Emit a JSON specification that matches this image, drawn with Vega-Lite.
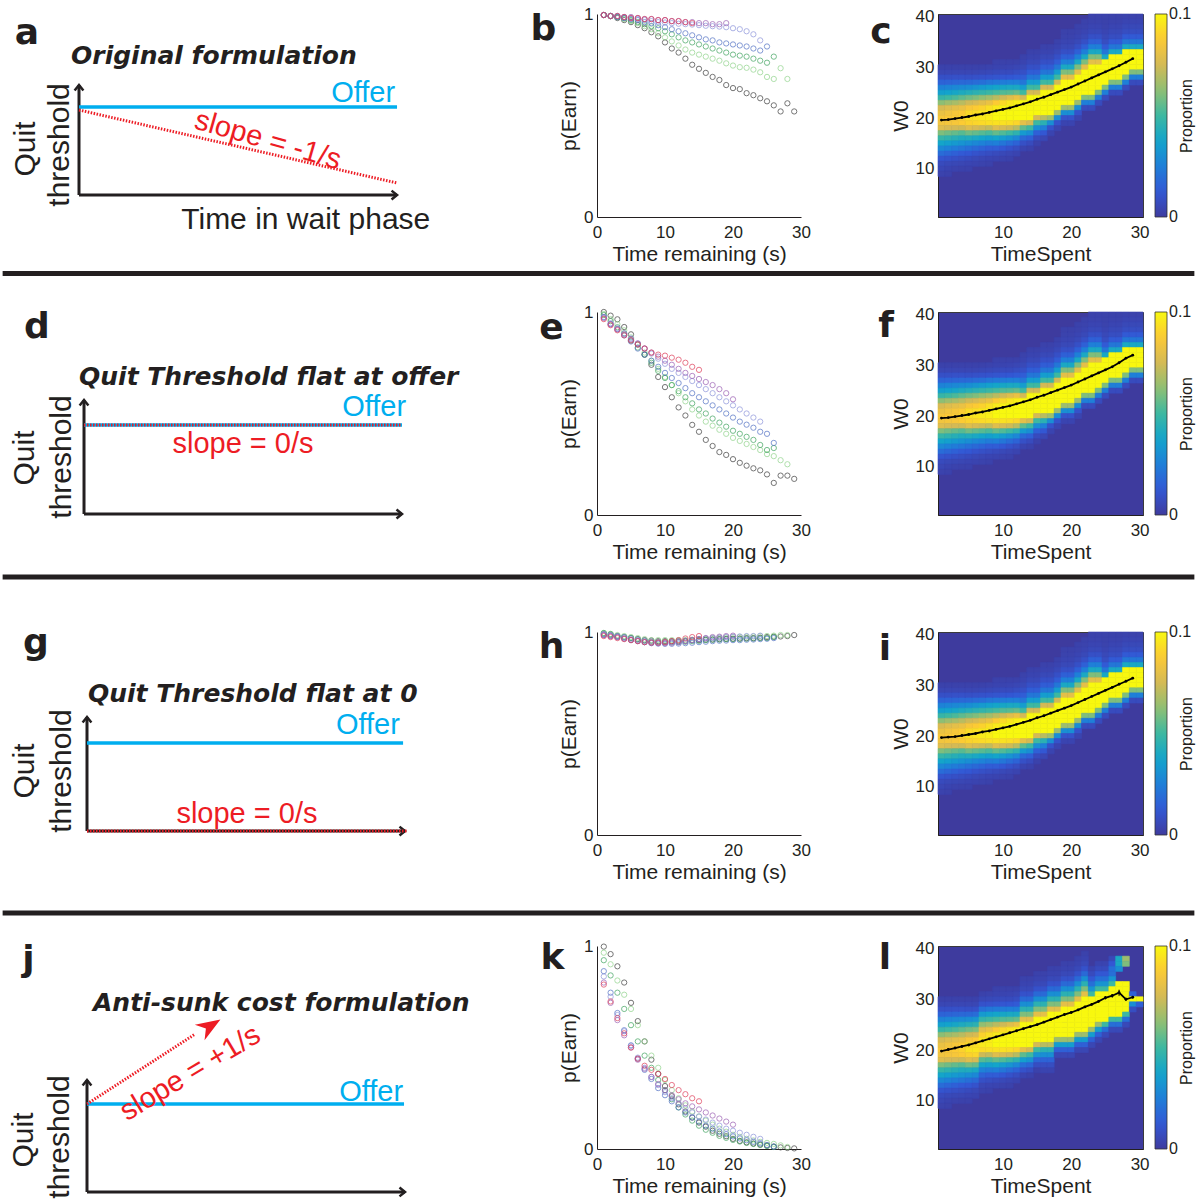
{
"$schema": "https://vega.github.io/schema/vega-lite/v6.json",
"background": "white",
"padding": {"left": 0, "top": 5, "right": 0, "bottom": 0},
"spacing": 0,
"config": {
  "font": "Liberation Sans",
  "view": {"stroke": null},
  "axis": {"grid": false, "ticks": false, "labelFlush": false, "domainColor": "#231f20", "domainWidth": 1, "labelColor": "#231f20", "titleColor": "#231f20", "labelFontSize": 17, "titleFontSize": 21, "titleFontWeight": "normal", "labelFont": "Liberation Sans", "titleFont": "Liberation Sans"},
  "axisX": {"labelPadding": 7, "titlePadding": 3},
  "axisY": {"labelPadding": 4, "titlePadding": 4},
  "legend": {"orient": "right", "offset": 12, "padding": 0, "gradientLength": 203, "gradientThickness": 12, "gradientStrokeColor": "#333333", "gradientStrokeWidth": 0.8, "labelFontSize": 16, "labelFont": "Liberation Sans", "labelColor": "#231f20", "labelOffset": 4, "titleFontSize": 16, "titleFont": "Liberation Sans", "titleFontWeight": "normal", "titleColor": "#231f20", "titleOrient": "right", "titlePadding": 4, "titleAnchor": "middle"}
},
"datasets": {
  "one": [{}],
  "b": [
    {"s":"k","t":1,"p":0.995},{"s":"k","t":2,"p":0.99},{"s":"k","t":3,"p":0.98},{"s":"k","t":4,"p":0.97},{"s":"k","t":5,"p":0.96},{"s":"k","t":6,"p":0.945},{"s":"k","t":7,"p":0.93},{"s":"k","t":8,"p":0.91},{"s":"k","t":9,"p":0.89},{"s":"k","t":10,"p":0.86},{"s":"k","t":11,"p":0.83},{"s":"k","t":12,"p":0.81},{"s":"k","t":13,"p":0.78},{"s":"k","t":14,"p":0.75},{"s":"k","t":15,"p":0.73},{"s":"k","t":16,"p":0.71},{"s":"k","t":17,"p":0.69},{"s":"k","t":18,"p":0.675},{"s":"k","t":19,"p":0.65},{"s":"k","t":20,"p":0.635},{"s":"k","t":21,"p":0.63},{"s":"k","t":22,"p":0.61},{"s":"k","t":23,"p":0.6},{"s":"k","t":24,"p":0.585},{"s":"k","t":25,"p":0.57},{"s":"k","t":26,"p":0.55},{"s":"k","t":27,"p":0.52},{"s":"k","t":28,"p":0.56},{"s":"k","t":29,"p":0.52},
    {"s":"lg","t":1,"p":0.995},{"s":"lg","t":2,"p":0.99},{"s":"lg","t":3,"p":0.985},{"s":"lg","t":4,"p":0.975},{"s":"lg","t":5,"p":0.965},{"s":"lg","t":6,"p":0.955},{"s":"lg","t":7,"p":0.94},{"s":"lg","t":8,"p":0.925},{"s":"lg","t":9,"p":0.905},{"s":"lg","t":10,"p":0.885},{"s":"lg","t":11,"p":0.865},{"s":"lg","t":12,"p":0.845},{"s":"lg","t":13,"p":0.825},{"s":"lg","t":14,"p":0.81},{"s":"lg","t":15,"p":0.8},{"s":"lg","t":16,"p":0.79},{"s":"lg","t":17,"p":0.78},{"s":"lg","t":18,"p":0.77},{"s":"lg","t":19,"p":0.757},{"s":"lg","t":20,"p":0.746},{"s":"lg","t":21,"p":0.738},{"s":"lg","t":22,"p":0.735},{"s":"lg","t":23,"p":0.726},{"s":"lg","t":24,"p":0.713},{"s":"lg","t":25,"p":0.69},{"s":"lg","t":26,"p":0.68},{"s":"lg","t":27,"p":0.733},{"s":"lg","t":28,"p":0.68},
    {"s":"g","t":1,"p":0.995},{"s":"g","t":2,"p":0.99},{"s":"g","t":3,"p":0.985},{"s":"g","t":4,"p":0.98},{"s":"g","t":5,"p":0.97},{"s":"g","t":6,"p":0.96},{"s":"g","t":7,"p":0.95},{"s":"g","t":8,"p":0.94},{"s":"g","t":9,"p":0.93},{"s":"g","t":10,"p":0.915},{"s":"g","t":11,"p":0.9},{"s":"g","t":12,"p":0.885},{"s":"g","t":13,"p":0.87},{"s":"g","t":14,"p":0.86},{"s":"g","t":15,"p":0.85},{"s":"g","t":16,"p":0.84},{"s":"g","t":17,"p":0.83},{"s":"g","t":18,"p":0.82},{"s":"g","t":19,"p":0.81},{"s":"g","t":20,"p":0.8},{"s":"g","t":21,"p":0.795},{"s":"g","t":22,"p":0.79},{"s":"g","t":23,"p":0.78},{"s":"g","t":24,"p":0.77},{"s":"g","t":25,"p":0.76},{"s":"g","t":26,"p":0.79},
    {"s":"b","t":1,"p":0.995},{"s":"b","t":2,"p":0.99},{"s":"b","t":3,"p":0.985},{"s":"b","t":4,"p":0.98},{"s":"b","t":5,"p":0.975},{"s":"b","t":6,"p":0.97},{"s":"b","t":7,"p":0.96},{"s":"b","t":8,"p":0.955},{"s":"b","t":9,"p":0.945},{"s":"b","t":10,"p":0.935},{"s":"b","t":11,"p":0.925},{"s":"b","t":12,"p":0.915},{"s":"b","t":13,"p":0.905},{"s":"b","t":14,"p":0.895},{"s":"b","t":15,"p":0.885},{"s":"b","t":16,"p":0.875},{"s":"b","t":17,"p":0.87},{"s":"b","t":18,"p":0.86},{"s":"b","t":19,"p":0.855},{"s":"b","t":20,"p":0.85},{"s":"b","t":21,"p":0.845},{"s":"b","t":22,"p":0.84},{"s":"b","t":23,"p":0.83},{"s":"b","t":24,"p":0.82},{"s":"b","t":25,"p":0.84},
    {"s":"lb","t":1,"p":0.995},{"s":"lb","t":2,"p":0.99},{"s":"lb","t":3,"p":0.99},{"s":"lb","t":4,"p":0.985},{"s":"lb","t":5,"p":0.98},{"s":"lb","t":6,"p":0.975},{"s":"lb","t":7,"p":0.97},{"s":"lb","t":8,"p":0.965},{"s":"lb","t":9,"p":0.96},{"s":"lb","t":10,"p":0.958},{"s":"lb","t":11,"p":0.955},{"s":"lb","t":12,"p":0.952},{"s":"lb","t":13,"p":0.95},{"s":"lb","t":14,"p":0.948},{"s":"lb","t":15,"p":0.945},{"s":"lb","t":16,"p":0.942},{"s":"lb","t":17,"p":0.94},{"s":"lb","t":18,"p":0.938},{"s":"lb","t":19,"p":0.935},{"s":"lb","t":20,"p":0.93},{"s":"lb","t":21,"p":0.925},{"s":"lb","t":22,"p":0.915},{"s":"lb","t":23,"p":0.9},{"s":"lb","t":24,"p":0.87},
    {"s":"pu","t":1,"p":0.995},{"s":"pu","t":2,"p":0.99},{"s":"pu","t":3,"p":0.99},{"s":"pu","t":4,"p":0.985},{"s":"pu","t":5,"p":0.985},{"s":"pu","t":6,"p":0.98},{"s":"pu","t":7,"p":0.975},{"s":"pu","t":8,"p":0.975},{"s":"pu","t":9,"p":0.97},{"s":"pu","t":10,"p":0.97},{"s":"pu","t":11,"p":0.965},{"s":"pu","t":12,"p":0.965},{"s":"pu","t":13,"p":0.96},{"s":"pu","t":14,"p":0.96},{"s":"pu","t":15,"p":0.955},{"s":"pu","t":16,"p":0.955},{"s":"pu","t":17,"p":0.95},{"s":"pu","t":18,"p":0.95},{"s":"pu","t":19,"p":0.955},
    {"s":"r","t":1,"p":0.995},{"s":"r","t":2,"p":0.99},{"s":"r","t":3,"p":0.99},{"s":"r","t":4,"p":0.985},{"s":"r","t":5,"p":0.98},{"s":"r","t":6,"p":0.98},{"s":"r","t":7,"p":0.975},{"s":"r","t":8,"p":0.975},{"s":"r","t":9,"p":0.97},{"s":"r","t":10,"p":0.97},{"s":"r","t":11,"p":0.965},{"s":"r","t":12,"p":0.965},{"s":"r","t":13,"p":0.96},{"s":"r","t":14,"p":0.955}
  ],
  "e": [
    {"s":"k","t":1,"p":1.0},{"s":"k","t":2,"p":0.982},{"s":"k","t":3,"p":0.964},{"s":"k","t":4,"p":0.926},{"s":"k","t":5,"p":0.89},{"s":"k","t":6,"p":0.84},{"s":"k","t":7,"p":0.79},{"s":"k","t":8,"p":0.74},{"s":"k","t":9,"p":0.68},{"s":"k","t":10,"p":0.63},{"s":"k","t":11,"p":0.58},{"s":"k","t":12,"p":0.53},{"s":"k","t":13,"p":0.49},{"s":"k","t":14,"p":0.444},{"s":"k","t":15,"p":0.41},{"s":"k","t":16,"p":0.37},{"s":"k","t":17,"p":0.34},{"s":"k","t":18,"p":0.31},{"s":"k","t":19,"p":0.296},{"s":"k","t":20,"p":0.275},{"s":"k","t":21,"p":0.257},{"s":"k","t":22,"p":0.243},{"s":"k","t":23,"p":0.23},{"s":"k","t":24,"p":0.22},{"s":"k","t":25,"p":0.2},{"s":"k","t":26,"p":0.158},{"s":"k","t":27,"p":0.194},{"s":"k","t":28,"p":0.194},{"s":"k","t":29,"p":0.178},
    {"s":"lg","t":1,"p":0.99},{"s":"lg","t":2,"p":0.965},{"s":"lg","t":3,"p":0.94},{"s":"lg","t":4,"p":0.91},{"s":"lg","t":5,"p":0.875},{"s":"lg","t":6,"p":0.84},{"s":"lg","t":7,"p":0.8},{"s":"lg","t":8,"p":0.76},{"s":"lg","t":9,"p":0.72},{"s":"lg","t":10,"p":0.68},{"s":"lg","t":11,"p":0.64},{"s":"lg","t":12,"p":0.6},{"s":"lg","t":13,"p":0.56},{"s":"lg","t":14,"p":0.52},{"s":"lg","t":15,"p":0.49},{"s":"lg","t":16,"p":0.46},{"s":"lg","t":17,"p":0.44},{"s":"lg","t":18,"p":0.42},{"s":"lg","t":19,"p":0.4},{"s":"lg","t":20,"p":0.38},{"s":"lg","t":21,"p":0.365},{"s":"lg","t":22,"p":0.35},{"s":"lg","t":23,"p":0.335},{"s":"lg","t":24,"p":0.32},{"s":"lg","t":25,"p":0.3},{"s":"lg","t":26,"p":0.29},{"s":"lg","t":27,"p":0.27},{"s":"lg","t":28,"p":0.25},
    {"s":"g","t":1,"p":0.985},{"s":"g","t":2,"p":0.955},{"s":"g","t":3,"p":0.925},{"s":"g","t":4,"p":0.895},{"s":"g","t":5,"p":0.86},{"s":"g","t":6,"p":0.825},{"s":"g","t":7,"p":0.79},{"s":"g","t":8,"p":0.75},{"s":"g","t":9,"p":0.71},{"s":"g","t":10,"p":0.675},{"s":"g","t":11,"p":0.64},{"s":"g","t":12,"p":0.61},{"s":"g","t":13,"p":0.58},{"s":"g","t":14,"p":0.55},{"s":"g","t":15,"p":0.52},{"s":"g","t":16,"p":0.5},{"s":"g","t":17,"p":0.475},{"s":"g","t":18,"p":0.455},{"s":"g","t":19,"p":0.435},{"s":"g","t":20,"p":0.415},{"s":"g","t":21,"p":0.4},{"s":"g","t":22,"p":0.385},{"s":"g","t":23,"p":0.37},{"s":"g","t":24,"p":0.345},{"s":"g","t":25,"p":0.32},{"s":"g","t":26,"p":0.33},
    {"s":"b","t":1,"p":0.975},{"s":"b","t":2,"p":0.94},{"s":"b","t":3,"p":0.915},{"s":"b","t":4,"p":0.885},{"s":"b","t":5,"p":0.855},{"s":"b","t":6,"p":0.82},{"s":"b","t":7,"p":0.79},{"s":"b","t":8,"p":0.76},{"s":"b","t":9,"p":0.73},{"s":"b","t":10,"p":0.7},{"s":"b","t":11,"p":0.675},{"s":"b","t":12,"p":0.65},{"s":"b","t":13,"p":0.625},{"s":"b","t":14,"p":0.6},{"s":"b","t":15,"p":0.58},{"s":"b","t":16,"p":0.56},{"s":"b","t":17,"p":0.54},{"s":"b","t":18,"p":0.52},{"s":"b","t":19,"p":0.5},{"s":"b","t":20,"p":0.48},{"s":"b","t":21,"p":0.46},{"s":"b","t":22,"p":0.445},{"s":"b","t":23,"p":0.43},{"s":"b","t":24,"p":0.41},{"s":"b","t":25,"p":0.4},{"s":"b","t":26,"p":0.355},
    {"s":"lb","t":1,"p":0.975},{"s":"lb","t":2,"p":0.945},{"s":"lb","t":3,"p":0.92},{"s":"lb","t":4,"p":0.895},{"s":"lb","t":5,"p":0.87},{"s":"lb","t":6,"p":0.845},{"s":"lb","t":7,"p":0.82},{"s":"lb","t":8,"p":0.795},{"s":"lb","t":9,"p":0.77},{"s":"lb","t":10,"p":0.745},{"s":"lb","t":11,"p":0.72},{"s":"lb","t":12,"p":0.7},{"s":"lb","t":13,"p":0.68},{"s":"lb","t":14,"p":0.66},{"s":"lb","t":15,"p":0.64},{"s":"lb","t":16,"p":0.62},{"s":"lb","t":17,"p":0.6},{"s":"lb","t":18,"p":0.58},{"s":"lb","t":19,"p":0.56},{"s":"lb","t":20,"p":0.54},{"s":"lb","t":21,"p":0.52},{"s":"lb","t":22,"p":0.5},{"s":"lb","t":23,"p":0.48},{"s":"lb","t":24,"p":0.46},
    {"s":"pu","t":1,"p":0.97},{"s":"pu","t":2,"p":0.94},{"s":"pu","t":3,"p":0.915},{"s":"pu","t":4,"p":0.89},{"s":"pu","t":5,"p":0.865},{"s":"pu","t":6,"p":0.845},{"s":"pu","t":7,"p":0.82},{"s":"pu","t":8,"p":0.8},{"s":"pu","t":9,"p":0.78},{"s":"pu","t":10,"p":0.76},{"s":"pu","t":11,"p":0.74},{"s":"pu","t":12,"p":0.72},{"s":"pu","t":13,"p":0.7},{"s":"pu","t":14,"p":0.685},{"s":"pu","t":15,"p":0.67},{"s":"pu","t":16,"p":0.655},{"s":"pu","t":17,"p":0.64},{"s":"pu","t":18,"p":0.62},{"s":"pu","t":19,"p":0.6},{"s":"pu","t":20,"p":0.57},
    {"s":"r","t":1,"p":0.965},{"s":"r","t":2,"p":0.935},{"s":"r","t":3,"p":0.91},{"s":"r","t":4,"p":0.885},{"s":"r","t":5,"p":0.86},{"s":"r","t":6,"p":0.84},{"s":"r","t":7,"p":0.82},{"s":"r","t":8,"p":0.8},{"s":"r","t":9,"p":0.79},{"s":"r","t":10,"p":0.785},{"s":"r","t":11,"p":0.775},{"s":"r","t":12,"p":0.765},{"s":"r","t":13,"p":0.75},{"s":"r","t":14,"p":0.73},{"s":"r","t":15,"p":0.715}
  ],
  "h": [
    {"s":"k","t":1,"p":0.99},{"s":"k","t":2,"p":0.985},{"s":"k","t":3,"p":0.98},{"s":"k","t":4,"p":0.975},{"s":"k","t":5,"p":0.97},{"s":"k","t":6,"p":0.965},{"s":"k","t":7,"p":0.96},{"s":"k","t":8,"p":0.958},{"s":"k","t":9,"p":0.955},{"s":"k","t":10,"p":0.955},{"s":"k","t":11,"p":0.955},{"s":"k","t":12,"p":0.955},{"s":"k","t":13,"p":0.957},{"s":"k","t":14,"p":0.96},{"s":"k","t":15,"p":0.96},{"s":"k","t":16,"p":0.962},{"s":"k","t":17,"p":0.963},{"s":"k","t":18,"p":0.965},{"s":"k","t":19,"p":0.966},{"s":"k","t":20,"p":0.967},{"s":"k","t":21,"p":0.968},{"s":"k","t":22,"p":0.97},{"s":"k","t":23,"p":0.97},{"s":"k","t":24,"p":0.972},{"s":"k","t":25,"p":0.975},{"s":"k","t":26,"p":0.977},{"s":"k","t":27,"p":0.978},{"s":"k","t":28,"p":0.98},{"s":"k","t":29,"p":0.985},
    {"s":"lg","t":1,"p":0.995},{"s":"lg","t":2,"p":0.99},{"s":"lg","t":3,"p":0.985},{"s":"lg","t":4,"p":0.98},{"s":"lg","t":5,"p":0.975},{"s":"lg","t":6,"p":0.97},{"s":"lg","t":7,"p":0.965},{"s":"lg","t":8,"p":0.96},{"s":"lg","t":9,"p":0.96},{"s":"lg","t":10,"p":0.96},{"s":"lg","t":11,"p":0.96},{"s":"lg","t":12,"p":0.96},{"s":"lg","t":13,"p":0.96},{"s":"lg","t":14,"p":0.962},{"s":"lg","t":15,"p":0.965},{"s":"lg","t":16,"p":0.967},{"s":"lg","t":17,"p":0.97},{"s":"lg","t":18,"p":0.972},{"s":"lg","t":19,"p":0.973},{"s":"lg","t":20,"p":0.975},{"s":"lg","t":21,"p":0.976},{"s":"lg","t":22,"p":0.977},{"s":"lg","t":23,"p":0.978},{"s":"lg","t":24,"p":0.98},{"s":"lg","t":25,"p":0.98},{"s":"lg","t":26,"p":0.982},{"s":"lg","t":27,"p":0.985},{"s":"lg","t":28,"p":0.985},
    {"s":"g","t":1,"p":0.995},{"s":"g","t":2,"p":0.99},{"s":"g","t":3,"p":0.98},{"s":"g","t":4,"p":0.975},{"s":"g","t":5,"p":0.97},{"s":"g","t":6,"p":0.963},{"s":"g","t":7,"p":0.957},{"s":"g","t":8,"p":0.952},{"s":"g","t":9,"p":0.95},{"s":"g","t":10,"p":0.95},{"s":"g","t":11,"p":0.95},{"s":"g","t":12,"p":0.95},{"s":"g","t":13,"p":0.952},{"s":"g","t":14,"p":0.955},{"s":"g","t":15,"p":0.957},{"s":"g","t":16,"p":0.96},{"s":"g","t":17,"p":0.962},{"s":"g","t":18,"p":0.963},{"s":"g","t":19,"p":0.965},{"s":"g","t":20,"p":0.965},{"s":"g","t":21,"p":0.966},{"s":"g","t":22,"p":0.967},{"s":"g","t":23,"p":0.968},{"s":"g","t":24,"p":0.97},{"s":"g","t":25,"p":0.97},{"s":"g","t":26,"p":0.975},
    {"s":"b","t":1,"p":0.985},{"s":"b","t":2,"p":0.98},{"s":"b","t":3,"p":0.975},{"s":"b","t":4,"p":0.968},{"s":"b","t":5,"p":0.96},{"s":"b","t":6,"p":0.955},{"s":"b","t":7,"p":0.95},{"s":"b","t":8,"p":0.945},{"s":"b","t":9,"p":0.943},{"s":"b","t":10,"p":0.942},{"s":"b","t":11,"p":0.942},{"s":"b","t":12,"p":0.943},{"s":"b","t":13,"p":0.945},{"s":"b","t":14,"p":0.947},{"s":"b","t":15,"p":0.95},{"s":"b","t":16,"p":0.952},{"s":"b","t":17,"p":0.955},{"s":"b","t":18,"p":0.957},{"s":"b","t":19,"p":0.958},{"s":"b","t":20,"p":0.96},{"s":"b","t":21,"p":0.96},{"s":"b","t":22,"p":0.962},{"s":"b","t":23,"p":0.963},{"s":"b","t":24,"p":0.965},{"s":"b","t":25,"p":0.967},{"s":"b","t":26,"p":0.97},
    {"s":"lb","t":1,"p":0.99},{"s":"lb","t":2,"p":0.985},{"s":"lb","t":3,"p":0.98},{"s":"lb","t":4,"p":0.975},{"s":"lb","t":5,"p":0.968},{"s":"lb","t":6,"p":0.962},{"s":"lb","t":7,"p":0.957},{"s":"lb","t":8,"p":0.953},{"s":"lb","t":9,"p":0.95},{"s":"lb","t":10,"p":0.95},{"s":"lb","t":11,"p":0.95},{"s":"lb","t":12,"p":0.952},{"s":"lb","t":13,"p":0.955},{"s":"lb","t":14,"p":0.96},{"s":"lb","t":15,"p":0.965},{"s":"lb","t":16,"p":0.968},{"s":"lb","t":17,"p":0.97},{"s":"lb","t":18,"p":0.972},{"s":"lb","t":19,"p":0.975},{"s":"lb","t":20,"p":0.977},{"s":"lb","t":21,"p":0.978},{"s":"lb","t":22,"p":0.98},{"s":"lb","t":23,"p":0.98},{"s":"lb","t":24,"p":0.982},
    {"s":"pu","t":1,"p":0.985},{"s":"pu","t":2,"p":0.98},{"s":"pu","t":3,"p":0.975},{"s":"pu","t":4,"p":0.968},{"s":"pu","t":5,"p":0.962},{"s":"pu","t":6,"p":0.956},{"s":"pu","t":7,"p":0.95},{"s":"pu","t":8,"p":0.947},{"s":"pu","t":9,"p":0.945},{"s":"pu","t":10,"p":0.945},{"s":"pu","t":11,"p":0.947},{"s":"pu","t":12,"p":0.95},{"s":"pu","t":13,"p":0.955},{"s":"pu","t":14,"p":0.96},{"s":"pu","t":15,"p":0.965},{"s":"pu","t":16,"p":0.97},{"s":"pu","t":17,"p":0.975},{"s":"pu","t":18,"p":0.977},{"s":"pu","t":19,"p":0.98},{"s":"pu","t":20,"p":0.982},
    {"s":"r","t":1,"p":0.98},{"s":"r","t":2,"p":0.975},{"s":"r","t":3,"p":0.97},{"s":"r","t":4,"p":0.965},{"s":"r","t":5,"p":0.96},{"s":"r","t":6,"p":0.955},{"s":"r","t":7,"p":0.95},{"s":"r","t":8,"p":0.948},{"s":"r","t":9,"p":0.948},{"s":"r","t":10,"p":0.95},{"s":"r","t":11,"p":0.955},{"s":"r","t":12,"p":0.96},{"s":"r","t":13,"p":0.968},{"s":"r","t":14,"p":0.975},{"s":"r","t":15,"p":0.98}
  ],
  "k": [
    {"s":"k","t":1,"p":0.997},{"s":"k","t":2,"p":0.96},{"s":"k","t":3,"p":0.9},{"s":"k","t":4,"p":0.82},{"s":"k","t":5,"p":0.72},{"s":"k","t":6,"p":0.63},{"s":"k","t":7,"p":0.53},{"s":"k","t":8,"p":0.44},{"s":"k","t":9,"p":0.37},{"s":"k","t":10,"p":0.31},{"s":"k","t":11,"p":0.26},{"s":"k","t":12,"p":0.22},{"s":"k","t":13,"p":0.185},{"s":"k","t":14,"p":0.155},{"s":"k","t":15,"p":0.13},{"s":"k","t":16,"p":0.11},{"s":"k","t":17,"p":0.09},{"s":"k","t":18,"p":0.075},{"s":"k","t":19,"p":0.063},{"s":"k","t":20,"p":0.05},{"s":"k","t":21,"p":0.04},{"s":"k","t":22,"p":0.033},{"s":"k","t":23,"p":0.027},{"s":"k","t":24,"p":0.022},{"s":"k","t":25,"p":0.017},{"s":"k","t":26,"p":0.012},{"s":"k","t":27,"p":0.008},{"s":"k","t":28,"p":0.005},{"s":"k","t":29,"p":0.003},
    {"s":"lg","t":1,"p":0.967},{"s":"lg","t":2,"p":0.91},{"s":"lg","t":3,"p":0.83},{"s":"lg","t":4,"p":0.76},{"s":"lg","t":5,"p":0.69},{"s":"lg","t":6,"p":0.61},{"s":"lg","t":7,"p":0.53},{"s":"lg","t":8,"p":0.46},{"s":"lg","t":9,"p":0.4},{"s":"lg","t":10,"p":0.34},{"s":"lg","t":11,"p":0.29},{"s":"lg","t":12,"p":0.25},{"s":"lg","t":13,"p":0.215},{"s":"lg","t":14,"p":0.185},{"s":"lg","t":15,"p":0.16},{"s":"lg","t":16,"p":0.14},{"s":"lg","t":17,"p":0.12},{"s":"lg","t":18,"p":0.1},{"s":"lg","t":19,"p":0.085},{"s":"lg","t":20,"p":0.07},{"s":"lg","t":21,"p":0.06},{"s":"lg","t":22,"p":0.05},{"s":"lg","t":23,"p":0.042},{"s":"lg","t":24,"p":0.035},{"s":"lg","t":25,"p":0.03},{"s":"lg","t":26,"p":0.025},{"s":"lg","t":27,"p":0.018},{"s":"lg","t":28,"p":0.01},
    {"s":"g","t":1,"p":0.93},{"s":"g","t":2,"p":0.855},{"s":"g","t":3,"p":0.77},{"s":"g","t":4,"p":0.69},{"s":"g","t":5,"p":0.61},{"s":"g","t":6,"p":0.53},{"s":"g","t":7,"p":0.46},{"s":"g","t":8,"p":0.4},{"s":"g","t":9,"p":0.34},{"s":"g","t":10,"p":0.29},{"s":"g","t":11,"p":0.245},{"s":"g","t":12,"p":0.205},{"s":"g","t":13,"p":0.17},{"s":"g","t":14,"p":0.14},{"s":"g","t":15,"p":0.115},{"s":"g","t":16,"p":0.095},{"s":"g","t":17,"p":0.08},{"s":"g","t":18,"p":0.065},{"s":"g","t":19,"p":0.055},{"s":"g","t":20,"p":0.045},{"s":"g","t":21,"p":0.037},{"s":"g","t":22,"p":0.03},{"s":"g","t":23,"p":0.025},{"s":"g","t":24,"p":0.02},{"s":"g","t":25,"p":0.015},{"s":"g","t":26,"p":0.01},
    {"s":"b","t":1,"p":0.876},{"s":"b","t":2,"p":0.77},{"s":"b","t":3,"p":0.67},{"s":"b","t":4,"p":0.585},{"s":"b","t":5,"p":0.51},{"s":"b","t":6,"p":0.445},{"s":"b","t":7,"p":0.39},{"s":"b","t":8,"p":0.345},{"s":"b","t":9,"p":0.3},{"s":"b","t":10,"p":0.265},{"s":"b","t":11,"p":0.235},{"s":"b","t":12,"p":0.205},{"s":"b","t":13,"p":0.18},{"s":"b","t":14,"p":0.155},{"s":"b","t":15,"p":0.135},{"s":"b","t":16,"p":0.115},{"s":"b","t":17,"p":0.1},{"s":"b","t":18,"p":0.085},{"s":"b","t":19,"p":0.073},{"s":"b","t":20,"p":0.062},{"s":"b","t":21,"p":0.052},{"s":"b","t":22,"p":0.043},{"s":"b","t":23,"p":0.035},{"s":"b","t":24,"p":0.028},{"s":"b","t":25,"p":0.02},{"s":"b","t":26,"p":0.012},
    {"s":"lb","t":1,"p":0.85},{"s":"lb","t":2,"p":0.75},{"s":"lb","t":3,"p":0.66},{"s":"lb","t":4,"p":0.58},{"s":"lb","t":5,"p":0.51},{"s":"lb","t":6,"p":0.45},{"s":"lb","t":7,"p":0.4},{"s":"lb","t":8,"p":0.355},{"s":"lb","t":9,"p":0.315},{"s":"lb","t":10,"p":0.28},{"s":"lb","t":11,"p":0.25},{"s":"lb","t":12,"p":0.225},{"s":"lb","t":13,"p":0.2},{"s":"lb","t":14,"p":0.18},{"s":"lb","t":15,"p":0.16},{"s":"lb","t":16,"p":0.145},{"s":"lb","t":17,"p":0.13},{"s":"lb","t":18,"p":0.115},{"s":"lb","t":19,"p":0.1},{"s":"lb","t":20,"p":0.09},{"s":"lb","t":21,"p":0.08},{"s":"lb","t":22,"p":0.07},{"s":"lb","t":23,"p":0.06},{"s":"lb","t":24,"p":0.05},
    {"s":"pu","t":1,"p":0.82},{"s":"pu","t":2,"p":0.72},{"s":"pu","t":3,"p":0.635},{"s":"pu","t":4,"p":0.56},{"s":"pu","t":5,"p":0.5},{"s":"pu","t":6,"p":0.44},{"s":"pu","t":7,"p":0.395},{"s":"pu","t":8,"p":0.355},{"s":"pu","t":9,"p":0.32},{"s":"pu","t":10,"p":0.29},{"s":"pu","t":11,"p":0.265},{"s":"pu","t":12,"p":0.245},{"s":"pu","t":13,"p":0.225},{"s":"pu","t":14,"p":0.21},{"s":"pu","t":15,"p":0.195},{"s":"pu","t":16,"p":0.18},{"s":"pu","t":17,"p":0.165},{"s":"pu","t":18,"p":0.15},{"s":"pu","t":19,"p":0.135},{"s":"pu","t":20,"p":0.12},
    {"s":"r","t":1,"p":0.81},{"s":"r","t":2,"p":0.727},{"s":"r","t":3,"p":0.645},{"s":"r","t":4,"p":0.57},{"s":"r","t":5,"p":0.5},{"s":"r","t":6,"p":0.445},{"s":"r","t":7,"p":0.41},{"s":"r","t":8,"p":0.39},{"s":"r","t":9,"p":0.37},{"s":"r","t":10,"p":0.345},{"s":"r","t":11,"p":0.315},{"s":"r","t":12,"p":0.29},{"s":"r","t":13,"p":0.27},{"s":"r","t":14,"p":0.25},{"s":"r","t":15,"p":0.235}
  ],
  "H": [
    {"t":1,"w":30,"v":0.3},{"t":1,"w":29,"v":0.5},{"t":1,"w":28,"v":0.9},{"t":1,"w":27,"v":1.6},{"t":1,"w":26,"v":2.6},{"t":1,"w":25,"v":3.6},{"t":1,"w":24,"v":4.8},{"t":1,"w":23,"v":6.2},{"t":1,"w":22,"v":7.6},{"t":1,"w":21,"v":8.2},{"t":1,"w":20,"v":8.6},{"t":1,"w":19,"v":8.4},{"t":1,"w":18,"v":7.8},{"t":1,"w":17,"v":6},{"t":1,"w":16,"v":4.8},{"t":1,"w":15,"v":3.8},{"t":1,"w":14,"v":2.8},{"t":1,"w":13,"v":1.9},{"t":1,"w":12,"v":1.1},{"t":1,"w":11,"v":0.7},{"t":1,"w":10,"v":0.5},{"t":1,"w":9,"v":0.35},
    {"t":2,"w":30,"v":0.3},{"t":2,"w":29,"v":0.5},{"t":2,"w":28,"v":0.9},{"t":2,"w":27,"v":1.65},{"t":2,"w":26,"v":2.7},{"t":2,"w":25,"v":3.7},{"t":2,"w":24,"v":5},{"t":2,"w":23,"v":6.5},{"t":2,"w":22,"v":7.8},{"t":2,"w":21,"v":8.4},{"t":2,"w":20,"v":8.7},{"t":2,"w":19,"v":8.5},{"t":2,"w":18,"v":7.6},{"t":2,"w":17,"v":5.8},{"t":2,"w":16,"v":4.6},{"t":2,"w":15,"v":3.6},{"t":2,"w":14,"v":2.6},{"t":2,"w":13,"v":1.7},{"t":2,"w":12,"v":1},{"t":2,"w":11,"v":0.6},{"t":2,"w":10,"v":0.4},{"t":2,"w":9,"v":0.3},
    {"t":3,"w":30,"v":0.3},{"t":3,"w":29,"v":0.5},{"t":3,"w":28,"v":0.95},{"t":3,"w":27,"v":1.7},{"t":3,"w":26,"v":2.8},{"t":3,"w":25,"v":3.9},{"t":3,"w":24,"v":5.2},{"t":3,"w":23,"v":6.7},{"t":3,"w":22,"v":8},{"t":3,"w":21,"v":8.6},{"t":3,"w":20,"v":8.8},{"t":3,"w":19,"v":8.6},{"t":3,"w":18,"v":7.5},{"t":3,"w":17,"v":5.6},{"t":3,"w":16,"v":4.4},{"t":3,"w":15,"v":3.4},{"t":3,"w":14,"v":2.4},{"t":3,"w":13,"v":1.5},{"t":3,"w":12,"v":0.9},{"t":3,"w":11,"v":0.55},{"t":3,"w":10,"v":0.35},
    {"t":4,"w":30,"v":0.3},{"t":4,"w":29,"v":0.5},{"t":4,"w":28,"v":0.95},{"t":4,"w":27,"v":1.75},{"t":4,"w":26,"v":2.9},{"t":4,"w":25,"v":4.1},{"t":4,"w":24,"v":5.5},{"t":4,"w":23,"v":7},{"t":4,"w":22,"v":8.2},{"t":4,"w":21,"v":8.8},{"t":4,"w":20,"v":9},{"t":4,"w":19,"v":8.8},{"t":4,"w":18,"v":7.4},{"t":4,"w":17,"v":5.4},{"t":4,"w":16,"v":4.2},{"t":4,"w":15,"v":3.2},{"t":4,"w":14,"v":2.2},{"t":4,"w":13,"v":1.3},{"t":4,"w":12,"v":0.8},{"t":4,"w":11,"v":0.5},{"t":4,"w":10,"v":0.3},
    {"t":5,"w":30,"v":0.3},{"t":5,"w":29,"v":0.5},{"t":5,"w":28,"v":0.9},{"t":5,"w":27,"v":1.8},{"t":5,"w":26,"v":3},{"t":5,"w":25,"v":4.3},{"t":5,"w":24,"v":5.8},{"t":5,"w":23,"v":7.4},{"t":5,"w":22,"v":8.6},{"t":5,"w":21,"v":9.2},{"t":5,"w":20,"v":9.4},{"t":5,"w":19,"v":9},{"t":5,"w":18,"v":7.8},{"t":5,"w":17,"v":5.8},{"t":5,"w":16,"v":4.2},{"t":5,"w":15,"v":3},{"t":5,"w":14,"v":2},{"t":5,"w":13,"v":1.2},{"t":5,"w":12,"v":0.7},{"t":5,"w":11,"v":0.45},{"t":5,"w":10,"v":0.3},
    {"t":6,"w":30,"v":0.3},{"t":6,"w":29,"v":0.5},{"t":6,"w":28,"v":0.95},{"t":6,"w":27,"v":1.9},{"t":6,"w":26,"v":3.2},{"t":6,"w":25,"v":4.5},{"t":6,"w":24,"v":6},{"t":6,"w":23,"v":7.6},{"t":6,"w":22,"v":8.8},{"t":6,"w":21,"v":9.3},{"t":6,"w":20,"v":9.5},{"t":6,"w":19,"v":9.1},{"t":6,"w":18,"v":7.6},{"t":6,"w":17,"v":5.6},{"t":6,"w":16,"v":4},{"t":6,"w":15,"v":2.8},{"t":6,"w":14,"v":1.8},{"t":6,"w":13,"v":1.05},{"t":6,"w":12,"v":0.6},{"t":6,"w":11,"v":0.4},
    {"t":7,"w":30,"v":0.3},{"t":7,"w":29,"v":0.55},{"t":7,"w":28,"v":1},{"t":7,"w":27,"v":2},{"t":7,"w":26,"v":3.4},{"t":7,"w":25,"v":4.7},{"t":7,"w":24,"v":6.3},{"t":7,"w":23,"v":7.9},{"t":7,"w":22,"v":9},{"t":7,"w":21,"v":9.5},{"t":7,"w":20,"v":9.6},{"t":7,"w":19,"v":9.2},{"t":7,"w":18,"v":7.4},{"t":7,"w":17,"v":5.4},{"t":7,"w":16,"v":3.8},{"t":7,"w":15,"v":2.6},{"t":7,"w":14,"v":1.6},{"t":7,"w":13,"v":0.9},{"t":7,"w":12,"v":0.5},{"t":7,"w":11,"v":0.35},
    {"t":8,"w":30,"v":0.35},{"t":8,"w":29,"v":0.6},{"t":8,"w":28,"v":1.05},{"t":8,"w":27,"v":2.2},{"t":8,"w":26,"v":3.6},{"t":8,"w":25,"v":4.9},{"t":8,"w":24,"v":6.6},{"t":8,"w":23,"v":8.2},{"t":8,"w":22,"v":9.3},{"t":8,"w":21,"v":9.7},{"t":8,"w":20,"v":9.7},{"t":8,"w":19,"v":9.3},{"t":8,"w":18,"v":7.2},{"t":8,"w":17,"v":5.2},{"t":8,"w":16,"v":3.6},{"t":8,"w":15,"v":2.4},{"t":8,"w":14,"v":1.4},{"t":8,"w":13,"v":0.8},{"t":8,"w":12,"v":0.45},{"t":8,"w":11,"v":0.3},
    {"t":9,"w":31,"v":0.3},{"t":9,"w":30,"v":0.4},{"t":9,"w":29,"v":0.65},{"t":9,"w":28,"v":1.1},{"t":9,"w":27,"v":2.3},{"t":9,"w":26,"v":3.8},{"t":9,"w":25,"v":5.1},{"t":9,"w":24,"v":7},{"t":9,"w":23,"v":8.8},{"t":9,"w":22,"v":9.6},{"t":9,"w":21,"v":10},{"t":9,"w":20,"v":10},{"t":9,"w":19,"v":9.4},{"t":9,"w":18,"v":7.8},{"t":9,"w":17,"v":5.6},{"t":9,"w":16,"v":3.8},{"t":9,"w":15,"v":2.5},{"t":9,"w":14,"v":1.4},{"t":9,"w":13,"v":0.7},{"t":9,"w":12,"v":0.4},
    {"t":10,"w":31,"v":0.3},{"t":10,"w":30,"v":0.4},{"t":10,"w":29,"v":0.7},{"t":10,"w":28,"v":1.15},{"t":10,"w":27,"v":2.4},{"t":10,"w":26,"v":3.9},{"t":10,"w":25,"v":5.3},{"t":10,"w":24,"v":7.4},{"t":10,"w":23,"v":9.2},{"t":10,"w":22,"v":9.8},{"t":10,"w":21,"v":10},{"t":10,"w":20,"v":10},{"t":10,"w":19,"v":9.4},{"t":10,"w":18,"v":7.6},{"t":10,"w":17,"v":5.3},{"t":10,"w":16,"v":3.5},{"t":10,"w":15,"v":2.2},{"t":10,"w":14,"v":1.2},{"t":10,"w":13,"v":0.6},{"t":10,"w":12,"v":0.35},
    {"t":11,"w":31,"v":0.3},{"t":11,"w":30,"v":0.45},{"t":11,"w":29,"v":0.7},{"t":11,"w":28,"v":1.2},{"t":11,"w":27,"v":2.5},{"t":11,"w":26,"v":4},{"t":11,"w":25,"v":5.4},{"t":11,"w":24,"v":7.8},{"t":11,"w":23,"v":9.5},{"t":11,"w":22,"v":10},{"t":11,"w":21,"v":10},{"t":11,"w":20,"v":10},{"t":11,"w":19,"v":9.3},{"t":11,"w":18,"v":7.4},{"t":11,"w":17,"v":5},{"t":11,"w":16,"v":3.2},{"t":11,"w":15,"v":1.9},{"t":11,"w":14,"v":1},{"t":11,"w":13,"v":0.5},{"t":11,"w":12,"v":0.3},
    {"t":12,"w":31,"v":0.3},{"t":12,"w":30,"v":0.5},{"t":12,"w":29,"v":0.8},{"t":12,"w":28,"v":1.3},{"t":12,"w":27,"v":2.5},{"t":12,"w":26,"v":4},{"t":12,"w":25,"v":5.6},{"t":12,"w":24,"v":8.2},{"t":12,"w":23,"v":9.8},{"t":12,"w":22,"v":10},{"t":12,"w":21,"v":10},{"t":12,"w":20,"v":10},{"t":12,"w":19,"v":9.1},{"t":12,"w":18,"v":7},{"t":12,"w":17,"v":4.6},{"t":12,"w":16,"v":2.8},{"t":12,"w":15,"v":1.6},{"t":12,"w":14,"v":0.8},{"t":12,"w":13,"v":0.4},
    {"t":13,"w":32,"v":0.3},{"t":13,"w":31,"v":0.4},{"t":13,"w":30,"v":0.6},{"t":13,"w":29,"v":0.9},{"t":13,"w":28,"v":1.4},{"t":13,"w":27,"v":2.2},{"t":13,"w":26,"v":3.5},{"t":13,"w":25,"v":5},{"t":13,"w":24,"v":7.5},{"t":13,"w":23,"v":10},{"t":13,"w":22,"v":10},{"t":13,"w":21,"v":10},{"t":13,"w":20,"v":10},{"t":13,"w":19,"v":8},{"t":13,"w":18,"v":5.5},{"t":13,"w":17,"v":3.4},{"t":13,"w":16,"v":1.8},{"t":13,"w":15,"v":0.9},{"t":13,"w":14,"v":0.4},
    {"t":14,"w":33,"v":0.3},{"t":14,"w":32,"v":0.4},{"t":14,"w":31,"v":0.6},{"t":14,"w":30,"v":0.9},{"t":14,"w":29,"v":1.4},{"t":14,"w":28,"v":2.2},{"t":14,"w":27,"v":3.5},{"t":14,"w":26,"v":5},{"t":14,"w":25,"v":7.5},{"t":14,"w":24,"v":10},{"t":14,"w":23,"v":10},{"t":14,"w":22,"v":10},{"t":14,"w":21,"v":10},{"t":14,"w":20,"v":10},{"t":14,"w":19,"v":7.5},{"t":14,"w":18,"v":5},{"t":14,"w":17,"v":3},{"t":14,"w":16,"v":1.5},{"t":14,"w":15,"v":0.7},{"t":14,"w":14,"v":0.3},
    {"t":15,"w":33,"v":0.3},{"t":15,"w":32,"v":0.4},{"t":15,"w":31,"v":0.6},{"t":15,"w":30,"v":0.9},{"t":15,"w":29,"v":1.4},{"t":15,"w":28,"v":2.2},{"t":15,"w":27,"v":3.5},{"t":15,"w":26,"v":5},{"t":15,"w":25,"v":7.5},{"t":15,"w":24,"v":10},{"t":15,"w":23,"v":10},{"t":15,"w":22,"v":10},{"t":15,"w":21,"v":10},{"t":15,"w":20,"v":7.5},{"t":15,"w":19,"v":5},{"t":15,"w":18,"v":3},{"t":15,"w":17,"v":1.5},{"t":15,"w":16,"v":0.7},{"t":15,"w":15,"v":0.3},
    {"t":16,"w":34,"v":0.3},{"t":16,"w":33,"v":0.4},{"t":16,"w":32,"v":0.6},{"t":16,"w":31,"v":0.9},{"t":16,"w":30,"v":1.4},{"t":16,"w":29,"v":2.2},{"t":16,"w":28,"v":3.5},{"t":16,"w":27,"v":5},{"t":16,"w":26,"v":7.5},{"t":16,"w":25,"v":10},{"t":16,"w":24,"v":10},{"t":16,"w":23,"v":10},{"t":16,"w":22,"v":10},{"t":16,"w":21,"v":10},{"t":16,"w":20,"v":7},{"t":16,"w":19,"v":4.5},{"t":16,"w":18,"v":2.5},{"t":16,"w":17,"v":1.2},{"t":16,"w":16,"v":0.5},
    {"t":17,"w":34,"v":0.3},{"t":17,"w":33,"v":0.4},{"t":17,"w":32,"v":0.6},{"t":17,"w":31,"v":0.9},{"t":17,"w":30,"v":1.4},{"t":17,"w":29,"v":2.2},{"t":17,"w":28,"v":3.5},{"t":17,"w":27,"v":5},{"t":17,"w":26,"v":7.5},{"t":17,"w":25,"v":10},{"t":17,"w":24,"v":10},{"t":17,"w":23,"v":10},{"t":17,"w":22,"v":10},{"t":17,"w":21,"v":10},{"t":17,"w":20,"v":6.5},{"t":17,"w":19,"v":3},{"t":17,"w":18,"v":1},{"t":17,"w":17,"v":0.4},
    {"t":18,"w":35,"v":0.3},{"t":18,"w":34,"v":0.4},{"t":18,"w":33,"v":0.6},{"t":18,"w":32,"v":0.9},{"t":18,"w":31,"v":1.4},{"t":18,"w":30,"v":2.2},{"t":18,"w":29,"v":3.5},{"t":18,"w":28,"v":5},{"t":18,"w":27,"v":7.5},{"t":18,"w":26,"v":10},{"t":18,"w":25,"v":10},{"t":18,"w":24,"v":10},{"t":18,"w":23,"v":10},{"t":18,"w":22,"v":10},{"t":18,"w":21,"v":6.5},{"t":18,"w":20,"v":3},{"t":18,"w":19,"v":1},{"t":18,"w":18,"v":0.4},
    {"t":19,"w":37,"v":0.3},{"t":19,"w":36,"v":0.35},{"t":19,"w":35,"v":0.45},{"t":19,"w":34,"v":0.6},{"t":19,"w":33,"v":0.9},{"t":19,"w":32,"v":1.5},{"t":19,"w":31,"v":2.5},{"t":19,"w":30,"v":4},{"t":19,"w":29,"v":6},{"t":19,"w":28,"v":8},{"t":19,"w":27,"v":10},{"t":19,"w":26,"v":10},{"t":19,"w":25,"v":10},{"t":19,"w":24,"v":10},{"t":19,"w":23,"v":10},{"t":19,"w":22,"v":6.5},{"t":19,"w":21,"v":3},{"t":19,"w":20,"v":1},{"t":19,"w":19,"v":0.4},
    {"t":20,"w":37,"v":0.3},{"t":20,"w":36,"v":0.35},{"t":20,"w":35,"v":0.45},{"t":20,"w":34,"v":0.6},{"t":20,"w":33,"v":0.9},{"t":20,"w":32,"v":1.5},{"t":20,"w":31,"v":2.5},{"t":20,"w":30,"v":4},{"t":20,"w":29,"v":6},{"t":20,"w":28,"v":8},{"t":20,"w":27,"v":10},{"t":20,"w":26,"v":10},{"t":20,"w":25,"v":10},{"t":20,"w":24,"v":10},{"t":20,"w":23,"v":10},{"t":20,"w":22,"v":6.5},{"t":20,"w":21,"v":3},{"t":20,"w":20,"v":1},{"t":20,"w":19,"v":0.4},
    {"t":21,"w":38,"v":0.3},{"t":21,"w":37,"v":0.35},{"t":21,"w":36,"v":0.45},{"t":21,"w":35,"v":0.6},{"t":21,"w":34,"v":0.9},{"t":21,"w":33,"v":1.5},{"t":21,"w":32,"v":2.5},{"t":21,"w":31,"v":4},{"t":21,"w":30,"v":6},{"t":21,"w":29,"v":8},{"t":21,"w":28,"v":10},{"t":21,"w":27,"v":10},{"t":21,"w":26,"v":10},{"t":21,"w":25,"v":10},{"t":21,"w":24,"v":10},{"t":21,"w":23,"v":6.5},{"t":21,"w":22,"v":3},{"t":21,"w":21,"v":1},{"t":21,"w":20,"v":0.4},
    {"t":22,"w":39,"v":0.3},{"t":22,"w":38,"v":0.35},{"t":22,"w":37,"v":0.45},{"t":22,"w":36,"v":0.6},{"t":22,"w":35,"v":0.9},{"t":22,"w":34,"v":1.5},{"t":22,"w":33,"v":2.5},{"t":22,"w":32,"v":4},{"t":22,"w":31,"v":6},{"t":22,"w":30,"v":8},{"t":22,"w":29,"v":10},{"t":22,"w":28,"v":10},{"t":22,"w":27,"v":10},{"t":22,"w":26,"v":10},{"t":22,"w":25,"v":10},{"t":22,"w":24,"v":6},{"t":22,"w":23,"v":2.5},{"t":22,"w":22,"v":0.7},
    {"t":23,"w":40,"v":0.3},{"t":23,"w":39,"v":0.35},{"t":23,"w":38,"v":0.45},{"t":23,"w":37,"v":0.6},{"t":23,"w":36,"v":0.9},{"t":23,"w":35,"v":1.5},{"t":23,"w":34,"v":2.5},{"t":23,"w":33,"v":4},{"t":23,"w":32,"v":6},{"t":23,"w":31,"v":8},{"t":23,"w":30,"v":10},{"t":23,"w":29,"v":10},{"t":23,"w":28,"v":10},{"t":23,"w":27,"v":10},{"t":23,"w":26,"v":10},{"t":23,"w":25,"v":10},{"t":23,"w":24,"v":6},{"t":23,"w":23,"v":2.5},{"t":23,"w":22,"v":0.7},
    {"t":24,"w":40,"v":0.3},{"t":24,"w":39,"v":0.35},{"t":24,"w":38,"v":0.45},{"t":24,"w":37,"v":0.6},{"t":24,"w":36,"v":0.9},{"t":24,"w":35,"v":1.5},{"t":24,"w":34,"v":2.5},{"t":24,"w":33,"v":4},{"t":24,"w":32,"v":6},{"t":24,"w":31,"v":8},{"t":24,"w":30,"v":10},{"t":24,"w":29,"v":10},{"t":24,"w":28,"v":10},{"t":24,"w":27,"v":10},{"t":24,"w":26,"v":10},{"t":24,"w":25,"v":6},{"t":24,"w":24,"v":2.5},{"t":24,"w":23,"v":0.7},
    {"t":25,"w":40,"v":0.3},{"t":25,"w":39,"v":0.3},{"t":25,"w":38,"v":0.35},{"t":25,"w":37,"v":0.45},{"t":25,"w":36,"v":0.6},{"t":25,"w":35,"v":0.8},{"t":25,"w":34,"v":1.3},{"t":25,"w":33,"v":2.2},{"t":25,"w":32,"v":4},{"t":25,"w":31,"v":10},{"t":25,"w":30,"v":10},{"t":25,"w":29,"v":10},{"t":25,"w":28,"v":10},{"t":25,"w":27,"v":10},{"t":25,"w":26,"v":6},{"t":25,"w":25,"v":2.5},{"t":25,"w":24,"v":0.7},
    {"t":26,"w":40,"v":0.3},{"t":26,"w":39,"v":0.35},{"t":26,"w":38,"v":0.45},{"t":26,"w":37,"v":0.6},{"t":26,"w":36,"v":0.8},{"t":26,"w":35,"v":1.3},{"t":26,"w":34,"v":2.2},{"t":26,"w":33,"v":4},{"t":26,"w":32,"v":10},{"t":26,"w":31,"v":10},{"t":26,"w":30,"v":10},{"t":26,"w":29,"v":10},{"t":26,"w":28,"v":10},{"t":26,"w":27,"v":6},{"t":26,"w":26,"v":2.5},{"t":26,"w":25,"v":0.7},
    {"t":27,"w":40,"v":0.3},{"t":27,"w":39,"v":0.35},{"t":27,"w":38,"v":0.45},{"t":27,"w":37,"v":0.6},{"t":27,"w":36,"v":0.8},{"t":27,"w":35,"v":1.3},{"t":27,"w":34,"v":2.2},{"t":27,"w":33,"v":4},{"t":27,"w":32,"v":10},{"t":27,"w":31,"v":10},{"t":27,"w":30,"v":10},{"t":27,"w":29,"v":10},{"t":27,"w":28,"v":10},{"t":27,"w":27,"v":6},{"t":27,"w":26,"v":2.5},{"t":27,"w":25,"v":0.7},
    {"t":28,"w":40,"v":0.35},{"t":28,"w":39,"v":0.45},{"t":28,"w":38,"v":0.6},{"t":28,"w":37,"v":0.8},{"t":28,"w":36,"v":1.3},{"t":28,"w":35,"v":2.2},{"t":28,"w":34,"v":4},{"t":28,"w":33,"v":10},{"t":28,"w":32,"v":10},{"t":28,"w":31,"v":10},{"t":28,"w":30,"v":10},{"t":28,"w":29,"v":10},{"t":28,"w":28,"v":6},{"t":28,"w":27,"v":2.5},{"t":28,"w":26,"v":0.7},
    {"t":29,"w":40,"v":0.35},{"t":29,"w":39,"v":0.45},{"t":29,"w":38,"v":0.6},{"t":29,"w":37,"v":0.8},{"t":29,"w":36,"v":1.3},{"t":29,"w":35,"v":2.2},{"t":29,"w":34,"v":4},{"t":29,"w":33,"v":10},{"t":29,"w":32,"v":10},{"t":29,"w":31,"v":10},{"t":29,"w":30,"v":10},{"t":29,"w":29,"v":6},{"t":29,"w":28,"v":2.5},{"t":29,"w":27,"v":0.7},
    {"t":30,"w":40,"v":0.35},{"t":30,"w":39,"v":0.45},{"t":30,"w":38,"v":0.6},{"t":30,"w":37,"v":0.8},{"t":30,"w":36,"v":1.3},{"t":30,"w":35,"v":2.2},{"t":30,"w":34,"v":4},{"t":30,"w":33,"v":10},{"t":30,"w":32,"v":10},{"t":30,"w":31,"v":10},{"t":30,"w":30,"v":10},{"t":30,"w":29,"v":6},{"t":30,"w":28,"v":2.5},{"t":30,"w":27,"v":0.7}
  ],
  "L": [
    {"t":1,"w":30,"v":0.3},{"t":1,"w":29,"v":0.5},{"t":1,"w":28,"v":0.9},{"t":1,"w":27,"v":1.6},{"t":1,"w":26,"v":2.6},{"t":1,"w":25,"v":3.6},{"t":1,"w":24,"v":4.8},{"t":1,"w":23,"v":6.2},{"t":1,"w":22,"v":7.6},{"t":1,"w":21,"v":8.2},{"t":1,"w":20,"v":8.6},{"t":1,"w":19,"v":8.4},{"t":1,"w":18,"v":7.8},{"t":1,"w":17,"v":6},{"t":1,"w":16,"v":4.8},{"t":1,"w":15,"v":3.8},{"t":1,"w":14,"v":2.8},{"t":1,"w":13,"v":1.9},{"t":1,"w":12,"v":1.1},{"t":1,"w":11,"v":0.7},{"t":1,"w":10,"v":0.5},{"t":1,"w":9,"v":0.35},
    {"t":2,"w":30,"v":0.3},{"t":2,"w":29,"v":0.5},{"t":2,"w":28,"v":0.9},{"t":2,"w":27,"v":1.65},{"t":2,"w":26,"v":2.7},{"t":2,"w":25,"v":3.7},{"t":2,"w":24,"v":5},{"t":2,"w":23,"v":6.5},{"t":2,"w":22,"v":7.8},{"t":2,"w":21,"v":8.4},{"t":2,"w":20,"v":8.7},{"t":2,"w":19,"v":8.5},{"t":2,"w":18,"v":7.6},{"t":2,"w":17,"v":5.8},{"t":2,"w":16,"v":4.6},{"t":2,"w":15,"v":3.6},{"t":2,"w":14,"v":2.6},{"t":2,"w":13,"v":1.7},{"t":2,"w":12,"v":1},{"t":2,"w":11,"v":0.6},{"t":2,"w":10,"v":0.4},{"t":2,"w":9,"v":0.3},
    {"t":3,"w":30,"v":0.3},{"t":3,"w":29,"v":0.5},{"t":3,"w":28,"v":0.95},{"t":3,"w":27,"v":1.7},{"t":3,"w":26,"v":2.8},{"t":3,"w":25,"v":3.9},{"t":3,"w":24,"v":5.2},{"t":3,"w":23,"v":6.7},{"t":3,"w":22,"v":8},{"t":3,"w":21,"v":8.6},{"t":3,"w":20,"v":8.8},{"t":3,"w":19,"v":8.6},{"t":3,"w":18,"v":7.5},{"t":3,"w":17,"v":5.6},{"t":3,"w":16,"v":4.4},{"t":3,"w":15,"v":3.4},{"t":3,"w":14,"v":2.4},{"t":3,"w":13,"v":1.5},{"t":3,"w":12,"v":0.9},{"t":3,"w":11,"v":0.55},{"t":3,"w":10,"v":0.35},
    {"t":4,"w":30,"v":0.3},{"t":4,"w":29,"v":0.5},{"t":4,"w":28,"v":0.95},{"t":4,"w":27,"v":1.75},{"t":4,"w":26,"v":2.9},{"t":4,"w":25,"v":4.1},{"t":4,"w":24,"v":5.5},{"t":4,"w":23,"v":7},{"t":4,"w":22,"v":8.2},{"t":4,"w":21,"v":8.8},{"t":4,"w":20,"v":9},{"t":4,"w":19,"v":8.8},{"t":4,"w":18,"v":7.4},{"t":4,"w":17,"v":5.4},{"t":4,"w":16,"v":4.2},{"t":4,"w":15,"v":3.2},{"t":4,"w":14,"v":2.2},{"t":4,"w":13,"v":1.3},{"t":4,"w":12,"v":0.8},{"t":4,"w":11,"v":0.5},{"t":4,"w":10,"v":0.3},
    {"t":5,"w":30,"v":0.3},{"t":5,"w":29,"v":0.5},{"t":5,"w":28,"v":0.9},{"t":5,"w":27,"v":1.8},{"t":5,"w":26,"v":3},{"t":5,"w":25,"v":4.3},{"t":5,"w":24,"v":5.8},{"t":5,"w":23,"v":7.4},{"t":5,"w":22,"v":8.6},{"t":5,"w":21,"v":9.2},{"t":5,"w":20,"v":9.4},{"t":5,"w":19,"v":9},{"t":5,"w":18,"v":7.8},{"t":5,"w":17,"v":5.8},{"t":5,"w":16,"v":4.2},{"t":5,"w":15,"v":3},{"t":5,"w":14,"v":2},{"t":5,"w":13,"v":1.2},{"t":5,"w":12,"v":0.7},{"t":5,"w":11,"v":0.45},{"t":5,"w":10,"v":0.3},
    {"t":6,"w":30,"v":0.3},{"t":6,"w":29,"v":0.5},{"t":6,"w":28,"v":0.95},{"t":6,"w":27,"v":1.9},{"t":6,"w":26,"v":3.2},{"t":6,"w":25,"v":4.5},{"t":6,"w":24,"v":6},{"t":6,"w":23,"v":7.6},{"t":6,"w":22,"v":8.8},{"t":6,"w":21,"v":9.3},{"t":6,"w":20,"v":9.5},{"t":6,"w":19,"v":9.1},{"t":6,"w":18,"v":7.6},{"t":6,"w":17,"v":5.6},{"t":6,"w":16,"v":4},{"t":6,"w":15,"v":2.8},{"t":6,"w":14,"v":1.8},{"t":6,"w":13,"v":1.05},{"t":6,"w":12,"v":0.6},{"t":6,"w":11,"v":0.4},
    {"t":7,"w":31,"v":0.3},{"t":7,"w":30,"v":0.55},{"t":7,"w":29,"v":1},{"t":7,"w":28,"v":2},{"t":7,"w":27,"v":3.4},{"t":7,"w":26,"v":4.7},{"t":7,"w":25,"v":6.3},{"t":7,"w":24,"v":7.9},{"t":7,"w":23,"v":9},{"t":7,"w":22,"v":9.5},{"t":7,"w":21,"v":9.6},{"t":7,"w":20,"v":9.2},{"t":7,"w":19,"v":7.4},{"t":7,"w":18,"v":5.4},{"t":7,"w":17,"v":3.8},{"t":7,"w":16,"v":2.6},{"t":7,"w":15,"v":1.6},{"t":7,"w":14,"v":0.9},{"t":7,"w":13,"v":0.5},{"t":7,"w":12,"v":0.35},
    {"t":8,"w":31,"v":0.35},{"t":8,"w":30,"v":0.6},{"t":8,"w":29,"v":1.05},{"t":8,"w":28,"v":2.2},{"t":8,"w":27,"v":3.6},{"t":8,"w":26,"v":4.9},{"t":8,"w":25,"v":6.6},{"t":8,"w":24,"v":8.2},{"t":8,"w":23,"v":9.3},{"t":8,"w":22,"v":9.7},{"t":8,"w":21,"v":9.7},{"t":8,"w":20,"v":9.3},{"t":8,"w":19,"v":7.2},{"t":8,"w":18,"v":5.2},{"t":8,"w":17,"v":3.6},{"t":8,"w":16,"v":2.4},{"t":8,"w":15,"v":1.4},{"t":8,"w":14,"v":0.8},{"t":8,"w":13,"v":0.45},{"t":8,"w":12,"v":0.3},
    {"t":9,"w":32,"v":0.3},{"t":9,"w":31,"v":0.4},{"t":9,"w":30,"v":0.65},{"t":9,"w":29,"v":1.1},{"t":9,"w":28,"v":2.3},{"t":9,"w":27,"v":3.8},{"t":9,"w":26,"v":5.1},{"t":9,"w":25,"v":7},{"t":9,"w":24,"v":8.8},{"t":9,"w":23,"v":9.6},{"t":9,"w":22,"v":10},{"t":9,"w":21,"v":10},{"t":9,"w":20,"v":9.4},{"t":9,"w":19,"v":7.8},{"t":9,"w":18,"v":5.6},{"t":9,"w":17,"v":3.8},{"t":9,"w":16,"v":2.5},{"t":9,"w":15,"v":1.4},{"t":9,"w":14,"v":0.7},{"t":9,"w":13,"v":0.4},
    {"t":10,"w":32,"v":0.3},{"t":10,"w":31,"v":0.4},{"t":10,"w":30,"v":0.7},{"t":10,"w":29,"v":1.15},{"t":10,"w":28,"v":2.4},{"t":10,"w":27,"v":3.9},{"t":10,"w":26,"v":5.3},{"t":10,"w":25,"v":7.4},{"t":10,"w":24,"v":9.2},{"t":10,"w":23,"v":9.8},{"t":10,"w":22,"v":10},{"t":10,"w":21,"v":10},{"t":10,"w":20,"v":9.4},{"t":10,"w":19,"v":7.6},{"t":10,"w":18,"v":5.3},{"t":10,"w":17,"v":3.5},{"t":10,"w":16,"v":2.2},{"t":10,"w":15,"v":1.2},{"t":10,"w":14,"v":0.6},{"t":10,"w":13,"v":0.35},
    {"t":11,"w":32,"v":0.3},{"t":11,"w":31,"v":0.45},{"t":11,"w":30,"v":0.7},{"t":11,"w":29,"v":1.2},{"t":11,"w":28,"v":2.5},{"t":11,"w":27,"v":4},{"t":11,"w":26,"v":5.4},{"t":11,"w":25,"v":7.8},{"t":11,"w":24,"v":9.5},{"t":11,"w":23,"v":10},{"t":11,"w":22,"v":10},{"t":11,"w":21,"v":10},{"t":11,"w":20,"v":9.3},{"t":11,"w":19,"v":7.4},{"t":11,"w":18,"v":5},{"t":11,"w":17,"v":3.2},{"t":11,"w":16,"v":1.9},{"t":11,"w":15,"v":1},{"t":11,"w":14,"v":0.5},{"t":11,"w":13,"v":0.3},
    {"t":12,"w":32,"v":0.3},{"t":12,"w":31,"v":0.5},{"t":12,"w":30,"v":0.8},{"t":12,"w":29,"v":1.3},{"t":12,"w":28,"v":2.5},{"t":12,"w":27,"v":4},{"t":12,"w":26,"v":5.6},{"t":12,"w":25,"v":8.2},{"t":12,"w":24,"v":9.8},{"t":12,"w":23,"v":10},{"t":12,"w":22,"v":10},{"t":12,"w":21,"v":10},{"t":12,"w":20,"v":9.1},{"t":12,"w":19,"v":7},{"t":12,"w":18,"v":4.6},{"t":12,"w":17,"v":2.8},{"t":12,"w":16,"v":1.6},{"t":12,"w":15,"v":0.8},{"t":12,"w":14,"v":0.4},
    {"t":13,"w":34,"v":0.3},{"t":13,"w":33,"v":0.4},{"t":13,"w":32,"v":0.6},{"t":13,"w":31,"v":1},{"t":13,"w":30,"v":1.8},{"t":13,"w":29,"v":3},{"t":13,"w":28,"v":4.5},{"t":13,"w":27,"v":6},{"t":13,"w":26,"v":8},{"t":13,"w":25,"v":10},{"t":13,"w":24,"v":10},{"t":13,"w":23,"v":10},{"t":13,"w":22,"v":10},{"t":13,"w":21,"v":10},{"t":13,"w":20,"v":8},{"t":13,"w":19,"v":5.5},{"t":13,"w":18,"v":3.6},{"t":13,"w":17,"v":2},{"t":13,"w":16,"v":1},{"t":13,"w":15,"v":0.4},
    {"t":14,"w":34,"v":0.3},{"t":14,"w":33,"v":0.4},{"t":14,"w":32,"v":0.6},{"t":14,"w":31,"v":1},{"t":14,"w":30,"v":1.8},{"t":14,"w":29,"v":3},{"t":14,"w":28,"v":4.5},{"t":14,"w":27,"v":6},{"t":14,"w":26,"v":8},{"t":14,"w":25,"v":10},{"t":14,"w":24,"v":10},{"t":14,"w":23,"v":10},{"t":14,"w":22,"v":10},{"t":14,"w":21,"v":10},{"t":14,"w":20,"v":7.5},{"t":14,"w":19,"v":5},{"t":14,"w":18,"v":3.2},{"t":14,"w":17,"v":1.7},{"t":14,"w":16,"v":0.8},{"t":14,"w":15,"v":0.3},
    {"t":15,"w":35,"v":0.3},{"t":15,"w":34,"v":0.4},{"t":15,"w":33,"v":0.6},{"t":15,"w":32,"v":1},{"t":15,"w":31,"v":1.8},{"t":15,"w":30,"v":3},{"t":15,"w":29,"v":4.5},{"t":15,"w":28,"v":6},{"t":15,"w":27,"v":8},{"t":15,"w":26,"v":10},{"t":15,"w":25,"v":10},{"t":15,"w":24,"v":10},{"t":15,"w":23,"v":10},{"t":15,"w":22,"v":10},{"t":15,"w":21,"v":7.5},{"t":15,"w":20,"v":5},{"t":15,"w":19,"v":3.2},{"t":15,"w":18,"v":1.7},{"t":15,"w":17,"v":0.8},{"t":15,"w":16,"v":0.3},
    {"t":16,"w":35,"v":0.3},{"t":16,"w":34,"v":0.4},{"t":16,"w":33,"v":0.6},{"t":16,"w":32,"v":1},{"t":16,"w":31,"v":1.8},{"t":16,"w":30,"v":3},{"t":16,"w":29,"v":4.5},{"t":16,"w":28,"v":6},{"t":16,"w":27,"v":8},{"t":16,"w":26,"v":10},{"t":16,"w":25,"v":10},{"t":16,"w":24,"v":10},{"t":16,"w":23,"v":10},{"t":16,"w":22,"v":10},{"t":16,"w":21,"v":7},{"t":16,"w":20,"v":4.5},{"t":16,"w":19,"v":3},{"t":16,"w":18,"v":1.6},{"t":16,"w":17,"v":0.8},{"t":16,"w":16,"v":0.4},
    {"t":17,"w":36,"v":0.3},{"t":17,"w":35,"v":0.4},{"t":17,"w":34,"v":0.6},{"t":17,"w":33,"v":1},{"t":17,"w":32,"v":1.8},{"t":17,"w":31,"v":3},{"t":17,"w":30,"v":4.5},{"t":17,"w":29,"v":6},{"t":17,"w":28,"v":8},{"t":17,"w":27,"v":10},{"t":17,"w":26,"v":10},{"t":17,"w":25,"v":10},{"t":17,"w":24,"v":10},{"t":17,"w":23,"v":10},{"t":17,"w":22,"v":10},{"t":17,"w":21,"v":7},{"t":17,"w":20,"v":4.5},{"t":17,"w":19,"v":3},{"t":17,"w":18,"v":1.6},{"t":17,"w":17,"v":0.8},{"t":17,"w":16,"v":0.4},
    {"t":18,"w":36,"v":0.3},{"t":18,"w":35,"v":0.4},{"t":18,"w":34,"v":0.6},{"t":18,"w":33,"v":1},{"t":18,"w":32,"v":1.8},{"t":18,"w":31,"v":3},{"t":18,"w":30,"v":4.5},{"t":18,"w":29,"v":6},{"t":18,"w":28,"v":8},{"t":18,"w":27,"v":10},{"t":18,"w":26,"v":10},{"t":18,"w":25,"v":10},{"t":18,"w":24,"v":10},{"t":18,"w":23,"v":10},{"t":18,"w":22,"v":6.5},{"t":18,"w":21,"v":3.5},{"t":18,"w":20,"v":1.5},{"t":18,"w":19,"v":0.5},
    {"t":19,"w":37,"v":0.3},{"t":19,"w":36,"v":0.4},{"t":19,"w":35,"v":0.6},{"t":19,"w":34,"v":1},{"t":19,"w":33,"v":1.8},{"t":19,"w":32,"v":3},{"t":19,"w":31,"v":4.5},{"t":19,"w":30,"v":6},{"t":19,"w":29,"v":8},{"t":19,"w":28,"v":10},{"t":19,"w":27,"v":10},{"t":19,"w":26,"v":10},{"t":19,"w":25,"v":10},{"t":19,"w":24,"v":10},{"t":19,"w":23,"v":10},{"t":19,"w":22,"v":6.5},{"t":19,"w":21,"v":3.5},{"t":19,"w":20,"v":1.5},{"t":19,"w":19,"v":0.5},
    {"t":20,"w":37,"v":0.3},{"t":20,"w":36,"v":0.4},{"t":20,"w":35,"v":0.6},{"t":20,"w":34,"v":1},{"t":20,"w":33,"v":1.8},{"t":20,"w":32,"v":3},{"t":20,"w":31,"v":4.5},{"t":20,"w":30,"v":6},{"t":20,"w":29,"v":8},{"t":20,"w":28,"v":10},{"t":20,"w":27,"v":10},{"t":20,"w":26,"v":10},{"t":20,"w":25,"v":10},{"t":20,"w":24,"v":10},{"t":20,"w":23,"v":10},{"t":20,"w":22,"v":6.5},{"t":20,"w":21,"v":3.5},{"t":20,"w":20,"v":1.5},{"t":20,"w":19,"v":0.5},
    {"t":21,"w":38,"v":0.3},{"t":21,"w":37,"v":0.4},{"t":21,"w":36,"v":0.6},{"t":21,"w":35,"v":1},{"t":21,"w":34,"v":1.8},{"t":21,"w":33,"v":3},{"t":21,"w":32,"v":4.5},{"t":21,"w":31,"v":6},{"t":21,"w":30,"v":8},{"t":21,"w":29,"v":10},{"t":21,"w":28,"v":10},{"t":21,"w":27,"v":10},{"t":21,"w":26,"v":10},{"t":21,"w":25,"v":10},{"t":21,"w":24,"v":10},{"t":21,"w":23,"v":6.5},{"t":21,"w":22,"v":3.5},{"t":21,"w":21,"v":1.5},{"t":21,"w":20,"v":0.5},
    {"t":22,"w":39,"v":0.3},{"t":22,"w":38,"v":0.4},{"t":22,"w":37,"v":0.6},{"t":22,"w":36,"v":1},{"t":22,"w":35,"v":1.8},{"t":22,"w":34,"v":3},{"t":22,"w":33,"v":4.5},{"t":22,"w":32,"v":6},{"t":22,"w":31,"v":8},{"t":22,"w":30,"v":10},{"t":22,"w":29,"v":10},{"t":22,"w":28,"v":10},{"t":22,"w":27,"v":10},{"t":22,"w":26,"v":10},{"t":22,"w":25,"v":10},{"t":22,"w":24,"v":10},{"t":22,"w":23,"v":6.5},{"t":22,"w":22,"v":3.5},{"t":22,"w":21,"v":1.5},{"t":22,"w":20,"v":0.5},
    {"t":23,"w":36,"v":0.4},{"t":23,"w":35,"v":0.7},{"t":23,"w":34,"v":1.2},{"t":23,"w":33,"v":2},{"t":23,"w":32,"v":3.2},{"t":23,"w":31,"v":5},{"t":23,"w":30,"v":10},{"t":23,"w":29,"v":10},{"t":23,"w":28,"v":10},{"t":23,"w":27,"v":10},{"t":23,"w":26,"v":10},{"t":23,"w":25,"v":10},{"t":23,"w":24,"v":6.5},{"t":23,"w":23,"v":3.5},{"t":23,"w":22,"v":1.5},{"t":23,"w":21,"v":0.5},
    {"t":24,"w":37,"v":0.4},{"t":24,"w":36,"v":0.7},{"t":24,"w":35,"v":1.2},{"t":24,"w":34,"v":2},{"t":24,"w":33,"v":3.2},{"t":24,"w":32,"v":5},{"t":24,"w":31,"v":10},{"t":24,"w":30,"v":10},{"t":24,"w":29,"v":10},{"t":24,"w":28,"v":10},{"t":24,"w":27,"v":10},{"t":24,"w":26,"v":10},{"t":24,"w":25,"v":6.5},{"t":24,"w":24,"v":3.5},{"t":24,"w":23,"v":1.5},{"t":24,"w":22,"v":0.5},
    {"t":25,"w":37,"v":0.4},{"t":25,"w":36,"v":0.7},{"t":25,"w":35,"v":1.2},{"t":25,"w":34,"v":2},{"t":25,"w":33,"v":3.2},{"t":25,"w":32,"v":5},{"t":25,"w":31,"v":10},{"t":25,"w":30,"v":10},{"t":25,"w":29,"v":10},{"t":25,"w":28,"v":10},{"t":25,"w":27,"v":10},{"t":25,"w":26,"v":10},{"t":25,"w":25,"v":5},{"t":25,"w":24,"v":2},{"t":25,"w":23,"v":0.6},
    {"t":26,"w":38,"v":0.6},{"t":26,"w":37,"v":1.2},{"t":26,"w":36,"v":2},{"t":26,"w":35,"v":2},{"t":26,"w":34,"v":3.2},{"t":26,"w":33,"v":5},{"t":26,"w":32,"v":10},{"t":26,"w":31,"v":10},{"t":26,"w":30,"v":10},{"t":26,"w":29,"v":10},{"t":26,"w":28,"v":10},{"t":26,"w":27,"v":10},{"t":26,"w":26,"v":5},{"t":26,"w":25,"v":2},{"t":26,"w":24,"v":0.6},
    {"t":27,"w":38,"v":4},{"t":27,"w":37,"v":4},{"t":27,"w":36,"v":3},{"t":27,"w":33,"v":10},{"t":27,"w":32,"v":10},{"t":27,"w":31,"v":10},{"t":27,"w":30,"v":10},{"t":27,"w":29,"v":10},{"t":27,"w":28,"v":10},{"t":27,"w":27,"v":10},{"t":27,"w":26,"v":5},{"t":27,"w":25,"v":2},{"t":27,"w":24,"v":0.6},
    {"t":28,"w":38,"v":6.5},{"t":28,"w":37,"v":6},{"t":28,"w":33,"v":10},{"t":28,"w":32,"v":10},{"t":28,"w":31,"v":10},{"t":28,"w":30,"v":10},{"t":28,"w":29,"v":10},{"t":28,"w":28,"v":10},{"t":28,"w":27,"v":5},{"t":28,"w":26,"v":2},{"t":28,"w":25,"v":0.6},
    {"t":29,"w":31,"v":1.5},{"t":29,"w":30,"v":10},{"t":29,"w":29,"v":3},{"t":29,"w":28,"v":0.8},
    {"t":30,"w":30,"v":10},{"t":30,"w":29,"v":1.5}
  ],
  "cv": [
    {"t":1,"c":19.6,"f":19.6,"i":19.7,"l":19.8},{"t":2,"c":19.7,"f":19.7,"i":19.8,"l":20.1},{"t":3,"c":19.9,"f":19.9,"i":19.9,"l":20.4},{"t":4,"c":20.1,"f":20.1,"i":20.1,"l":20.7},{"t":5,"c":20.3,"f":20.3,"i":20.3,"l":21.0},{"t":6,"c":20.6,"f":20.6,"i":20.5,"l":21.4},{"t":7,"c":20.8,"f":20.8,"i":20.8,"l":21.8},{"t":8,"c":21.1,"f":21.1,"i":21.0,"l":22.2},{"t":9,"c":21.4,"f":21.4,"i":21.3,"l":22.6},{"t":10,"c":21.7,"f":21.7,"i":21.6,"l":23.0},{"t":11,"c":22.0,"f":22.0,"i":21.9,"l":23.4},{"t":12,"c":22.4,"f":22.4,"i":22.3,"l":23.8},{"t":13,"c":22.8,"f":22.8,"i":22.7,"l":24.2},{"t":14,"c":23.2,"f":23.2,"i":23.1,"l":24.6},{"t":15,"c":23.7,"f":23.7,"i":23.6,"l":25.0},{"t":16,"c":24.1,"f":24.1,"i":24.0,"l":25.5},{"t":17,"c":24.6,"f":24.6,"i":24.5,"l":26.0},{"t":18,"c":25.1,"f":25.1,"i":25.0,"l":26.5},{"t":19,"c":25.6,"f":25.6,"i":25.5,"l":27.0},{"t":20,"c":26.1,"f":26.1,"i":26.0,"l":27.4},{"t":21,"c":26.7,"f":26.7,"i":26.6,"l":27.9},{"t":22,"c":27.3,"f":27.3,"i":27.2,"l":28.5},{"t":23,"c":27.9,"f":27.9,"i":27.8,"l":29.0},{"t":24,"c":28.5,"f":28.5,"i":28.4,"l":29.6},{"t":25,"c":29.1,"f":29.1,"i":29.0,"l":30.3},{"t":26,"c":29.7,"f":29.7,"i":29.6,"l":30.7},{"t":27,"c":30.3,"f":30.5,"i":30.2,"l":31.3},{"t":28,"c":31.0,"f":31.4,"i":30.8,"l":30.0},{"t":29,"c":31.7,"f":32.0,"i":31.4,"l":30.4}
  ],
  "le": [
    {"t":22,"lo":28.35,"hi":28.65},{"t":23,"lo":28.8,"hi":29.2},{"t":24,"lo":29.35,"hi":29.85},{"t":25,"lo":30.0,"hi":30.6},{"t":26,"lo":30.35,"hi":31.05},{"t":27,"lo":30.7,"hi":31.9},{"t":28,"lo":29.7,"hi":30.3},{"t":29,"lo":30.2,"hi":30.6}
  ]
},
"vconcat": [
 {"hconcat": [
  {"width": 460, "height": 255, "data": {"name": "one"},
   "layer": [
    {"mark": {"type": "rule", "color": "#231f20", "strokeWidth": 3}, "encoding": {"x": {"datum": 0, "scale": {"domain": [-2.484, 11.98], "nice": false, "zero": false}, "axis": null}, "x2": {"datum": 10}, "y": {"datum": 0, "scale": {"domain": [-6.727, 16.455], "nice": false, "zero": false}, "axis": null}}},
    {"mark": {"type": "rule", "color": "#231f20", "strokeWidth": 3}, "encoding": {"x": {"datum": 0, "axis": null}, "y": {"datum": 0, "axis": null}, "y2": {"datum": 10}}},
    {"mark": {"type": "point", "shape": "M -0.8 1 L 0 0 L 0.8 1", "filled": false, "size": 121, "stroke": "#231f20", "strokeWidth": 2.5, "opacity": 1}, "encoding": {"x": {"datum": 0, "axis": null}, "y": {"datum": 10, "axis": null}}},
    {"mark": {"type": "point", "shape": "M -1 -0.8 L 0 0 L -1 0.8", "filled": false, "size": 121, "stroke": "#231f20", "strokeWidth": 2.5, "opacity": 1}, "encoding": {"x": {"datum": 10, "axis": null}, "y": {"datum": 0, "axis": null}}},
    {"mark": {"type": "rule", "color": "#00AEEF", "strokeWidth": 3.5}, "encoding": {"x": {"datum": 0, "axis": null}, "x2": {"datum": 10}, "y": {"datum": 8.0, "axis": null}}},
    {"mark": {"type": "rule", "color": "#ED1C24", "strokeWidth": 3, "strokeDash": [1.5, 1.5]}, "encoding": {"x": {"datum": 0, "axis": null}, "x2": {"datum": 10}, "y": {"datum": 7.73, "axis": null}, "y2": {"datum": 1.09}}},
    {"mark": {"type": "text", "text": "Offer", "fontSize": 29, "color": "#00AEEF", "align": "right", "baseline": "alphabetic"}, "encoding": {"x": {"datum": 9.94, "axis": null}, "y": {"datum": 8.48, "axis": null}}},
    {"mark": {"type": "text", "text": "slope = -1/s", "fontSize": 29, "color": "#ED1C24", "align": "center", "baseline": "middle", "angle": 16}, "encoding": {"x": {"datum": 5.94, "axis": null}, "y": {"datum": 5.0, "axis": null}}},
    {"mark": {"type": "text", "text": "Quit", "fontSize": 30, "color": "#231f20", "align": "center", "baseline": "middle", "angle": 270}, "encoding": {"x": {"datum": -1.68, "axis": null}, "y": {"datum": 4.18, "axis": null}}},
    {"mark": {"type": "text", "text": "threshold", "fontSize": 30, "color": "#231f20", "align": "center", "baseline": "middle", "angle": 270}, "encoding": {"x": {"datum": -0.6, "axis": null}, "y": {"datum": 4.55, "axis": null}}},
    {"mark": {"type": "text", "text": "Time in wait phase", "fontSize": 30, "color": "#231f20", "align": "center", "baseline": "alphabetic"}, "encoding": {"x": {"datum": 7.13, "axis": null}, "y": {"datum": -3.09, "axis": null}}},
    {"mark": {"type": "text", "text": "Original formulation", "font": "DejaVu Sans", "fontSize": 25, "fontWeight": "bold", "fontStyle": "italic", "color": "#231f20", "align": "left", "baseline": "alphabetic"}, "encoding": {"x": {"datum": -0.25, "axis": null}, "y": {"datum": 11.91, "axis": null}}},
    {"mark": {"type": "text", "text": "a", "font": "DejaVu Sans", "fontSize": 36, "fontWeight": "bold", "color": "#231f20", "align": "center", "baseline": "middle"}, "encoding": {"x": {"datum": -1.635, "axis": null}, "y": {"datum": 14.77, "axis": null}}}
   ]},
  {"width": 204, "height": 203,
   "layer": [
    {"data": {"name": "b"}, "mark": {"type": "point", "shape": "circle", "filled": false, "size": 28, "strokeWidth": 1},
     "encoding": {"x": {"field": "t", "type": "quantitative", "scale": {"domain": [0, 30], "nice": false}, "axis": {"values": [0, 10, 20, 30], "title": "Time remaining (s)"}},
      "y": {"field": "p", "type": "quantitative", "scale": {"domain": [0, 1], "nice": false}, "axis": {"values": [0, 1], "format": "d", "title": "p(Earn)"}},
      "color": {"field": "s", "type": "nominal", "scale": {"domain": ["k","lg","g","b","lb","pu","r"], "range": ["#3b3b3b","#8fd48a","#3da35d","#4f6fc4","#8b93db","#9a5db3","#df3b57"]}, "legend": null}}},
    {"data": {"name": "one"}, "mark": {"type": "text", "text": "b", "font": "DejaVu Sans", "fontSize": 36, "fontWeight": "bold", "color": "#231f20", "align": "center", "baseline": "middle"}, "encoding": {"x": {"datum": -7.87}, "y": {"datum": 0.926}}}
   ]},
  {"width": 205, "height": 203, "view": {"fill": "#3e3b9e", "stroke": "#3a3a3a", "strokeWidth": 1},
   "layer": [
    {"data": {"name": "H"}, "mark": {"type": "rect", "strokeWidth": 0.6},
     "encoding": {"x": {"field": "t", "type": "ordinal", "scale": {"domain": [1,2,3,4,5,6,7,8,9,10,11,12,13,14,15,16,17,18,19,20,21,22,23,24,25,26,27,28,29,30], "paddingInner": 0, "paddingOuter": 0}, "axis": null},
      "y": {"field": "w", "type": "ordinal", "scale": {"domain": [40,39,38,37,36,35,34,33,32,31,30,29,28,27,26,25,24,23,22,21,20,19,18,17,16,15,14,13,12,11,10,9,8,7,6,5,4,3,2,1], "paddingInner": 0, "paddingOuter": 0}, "axis": null},
      "color": {"field": "v", "type": "quantitative", "scale": {"domain": [0,1.25,2.5,3.75,5,6.25,7.5,8.75,10], "range": ["#3e3b9e","#3358d5","#1f7fd8","#12a4cb","#3db8a1","#8fbf73","#d4ba55","#fcc936","#f8f80f"], "clamp": true, "interpolate": "rgb"},
       "legend": {"title": "Proportion", "values": [0, 10], "labelExpr": "datum.value == 0 ? '0' : '0.1'", "encode": {"title": {"update": {"angle": {"value": -90}}}, "labels": {"update": {"baseline": {"value": "middle"}}}}}},
      "stroke": {"field": "v", "type": "quantitative", "scale": {"domain": [0,1.25,2.5,3.75,5,6.25,7.5,8.75,10], "range": ["#3e3b9e","#3358d5","#1f7fd8","#12a4cb","#3db8a1","#8fbf73","#d4ba55","#fcc936","#f8f80f"], "clamp": true, "interpolate": "rgb"}, "legend": null}}},
    {"layer": [
      {"data": {"name": "cv"}, "mark": {"type": "line", "color": "#000000", "strokeWidth": 1.8, "point": {"filled": true, "size": 8, "color": "#000000"}},
       "encoding": {"x": {"field": "t", "type": "quantitative", "scale": {"domain": [0.5, 30.5], "nice": false, "zero": false}, "axis": {"values": [10, 20, 30], "title": "TimeSpent", "orient": "bottom"}},
        "y": {"field": "c", "type": "quantitative", "scale": {"domain": [0.5, 40.5], "nice": false, "zero": false}, "axis": {"values": [10, 20, 30, 40], "title": "W0", "orient": "left"}}}},
      {"data": {"name": "one"}, "mark": {"type": "text", "text": "c", "font": "DejaVu Sans", "fontSize": 36, "fontWeight": "bold", "color": "#231f20", "align": "center", "baseline": "middle"}, "encoding": {"x": {"datum": -7.85}, "y": {"datum": 36.95}}}
    ]}
   ],
   "resolve": {"scale": {"x": "independent", "y": "independent"}}}
 ], "spacing": 137, "bounds": "flush"},
 {"width": 1197, "height": 34, "data": {"name": "one"}, "mark": {"type": "rule", "color": "#231f20", "strokeWidth": 5}, "encoding": {"x": {"datum": 0.0022, "scale": {"domain": [0, 1], "nice": false}, "axis": null}, "x2": {"datum": 0.9978}, "y": {"datum": 0.868, "scale": {"domain": [0, 1], "nice": false}, "axis": null}}},
 {"hconcat": [
  {"width": 460, "height": 255, "data": {"name": "one"},
   "layer": [
    {"mark": {"type": "rule", "color": "#231f20", "strokeWidth": 3}, "encoding": {"x": {"datum": 0, "scale": {"domain": [-2.642, 11.824], "nice": false, "zero": false}, "axis": null}, "x2": {"datum": 10}, "y": {"datum": 0, "scale": {"domain": [-4.649, 17.719], "nice": false, "zero": false}, "axis": null}}},
    {"mark": {"type": "rule", "color": "#231f20", "strokeWidth": 3}, "encoding": {"x": {"datum": 0, "axis": null}, "y": {"datum": 0, "axis": null}, "y2": {"datum": 10}}},
    {"mark": {"type": "point", "shape": "M -0.8 1 L 0 0 L 0.8 1", "filled": false, "size": 121, "stroke": "#231f20", "strokeWidth": 2.5, "opacity": 1}, "encoding": {"x": {"datum": 0, "axis": null}, "y": {"datum": 10, "axis": null}}},
    {"mark": {"type": "point", "shape": "M -1 -0.8 L 0 0 L -1 0.8", "filled": false, "size": 121, "stroke": "#231f20", "strokeWidth": 2.5, "opacity": 1}, "encoding": {"x": {"datum": 10, "axis": null}, "y": {"datum": 0, "axis": null}}},
    {"mark": {"type": "rule", "color": "#00AEEF", "strokeWidth": 3.5}, "encoding": {"x": {"datum": 0, "axis": null}, "x2": {"datum": 10}, "y": {"datum": 7.807, "axis": null}}},
    {"mark": {"type": "rule", "color": "#ED1C24", "strokeWidth": 3, "strokeDash": [1.5, 1.5]}, "encoding": {"x": {"datum": 0, "axis": null}, "x2": {"datum": 10}, "y": {"datum": 7.807, "axis": null}}},
    {"mark": {"type": "text", "text": "Offer", "fontSize": 29, "color": "#00AEEF", "align": "right", "baseline": "alphabetic"}, "encoding": {"x": {"datum": 10.13, "axis": null}, "y": {"datum": 8.6, "axis": null}}},
    {"mark": {"type": "text", "text": "slope = 0/s", "fontSize": 29, "color": "#ED1C24", "align": "center", "baseline": "middle"}, "encoding": {"x": {"datum": 5.0, "axis": null}, "y": {"datum": 6.14, "axis": null}}},
    {"mark": {"type": "text", "text": "Quit", "fontSize": 30, "color": "#231f20", "align": "center", "baseline": "middle", "angle": 270}, "encoding": {"x": {"datum": -1.855, "axis": null}, "y": {"datum": 4.91, "axis": null}}},
    {"mark": {"type": "text", "text": "threshold", "fontSize": 30, "color": "#231f20", "align": "center", "baseline": "middle", "angle": 270}, "encoding": {"x": {"datum": -0.692, "axis": null}, "y": {"datum": 5.0, "axis": null}}},
    {"mark": {"type": "text", "text": "Quit Threshold flat at offer", "font": "DejaVu Sans", "fontSize": 25, "fontWeight": "bold", "fontStyle": "italic", "color": "#231f20", "align": "left", "baseline": "alphabetic"}, "encoding": {"x": {"datum": -0.157, "axis": null}, "y": {"datum": 11.32, "axis": null}}},
    {"mark": {"type": "text", "text": "d", "font": "DejaVu Sans", "fontSize": 36, "fontWeight": "bold", "color": "#231f20", "align": "center", "baseline": "middle"}, "encoding": {"x": {"datum": -1.478, "axis": null}, "y": {"datum": 16.4, "axis": null}}}
   ]},
  {"width": 204, "height": 203,
   "layer": [
    {"data": {"name": "e"}, "mark": {"type": "point", "shape": "circle", "filled": false, "size": 28, "strokeWidth": 1},
     "encoding": {"x": {"field": "t", "type": "quantitative", "scale": {"domain": [0, 30], "nice": false}, "axis": {"values": [0, 10, 20, 30], "title": "Time remaining (s)"}},
      "y": {"field": "p", "type": "quantitative", "scale": {"domain": [0, 1], "nice": false}, "axis": {"values": [0, 1], "format": "d", "title": "p(Earn)"}},
      "color": {"field": "s", "type": "nominal", "scale": {"domain": ["k","lg","g","b","lb","pu","r"], "range": ["#3b3b3b","#8fd48a","#3da35d","#4f6fc4","#8b93db","#9a5db3","#df3b57"]}, "legend": null}}},
    {"data": {"name": "one"}, "mark": {"type": "text", "text": "e", "font": "DejaVu Sans", "fontSize": 36, "fontWeight": "bold", "color": "#231f20", "align": "center", "baseline": "middle"}, "encoding": {"x": {"datum": -6.69}, "y": {"datum": 0.921}}}
   ]},
  {"width": 205, "height": 203, "view": {"fill": "#3e3b9e", "stroke": "#3a3a3a", "strokeWidth": 1},
   "layer": [
    {"data": {"name": "H"}, "mark": {"type": "rect", "strokeWidth": 0.6},
     "encoding": {"x": {"field": "t", "type": "ordinal", "scale": {"domain": [1,2,3,4,5,6,7,8,9,10,11,12,13,14,15,16,17,18,19,20,21,22,23,24,25,26,27,28,29,30], "paddingInner": 0, "paddingOuter": 0}, "axis": null},
      "y": {"field": "w", "type": "ordinal", "scale": {"domain": [40,39,38,37,36,35,34,33,32,31,30,29,28,27,26,25,24,23,22,21,20,19,18,17,16,15,14,13,12,11,10,9,8,7,6,5,4,3,2,1], "paddingInner": 0, "paddingOuter": 0}, "axis": null},
      "color": {"field": "v", "type": "quantitative", "scale": {"domain": [0,1.25,2.5,3.75,5,6.25,7.5,8.75,10], "range": ["#3e3b9e","#3358d5","#1f7fd8","#12a4cb","#3db8a1","#8fbf73","#d4ba55","#fcc936","#f8f80f"], "clamp": true, "interpolate": "rgb"},
       "legend": {"title": "Proportion", "values": [0, 10], "labelExpr": "datum.value == 0 ? '0' : '0.1'", "encode": {"title": {"update": {"angle": {"value": -90}}}, "labels": {"update": {"baseline": {"value": "middle"}}}}}},
      "stroke": {"field": "v", "type": "quantitative", "scale": {"domain": [0,1.25,2.5,3.75,5,6.25,7.5,8.75,10], "range": ["#3e3b9e","#3358d5","#1f7fd8","#12a4cb","#3db8a1","#8fbf73","#d4ba55","#fcc936","#f8f80f"], "clamp": true, "interpolate": "rgb"}, "legend": null}}},
    {"layer": [
      {"data": {"name": "cv"}, "mark": {"type": "line", "color": "#000000", "strokeWidth": 1.8, "point": {"filled": true, "size": 8, "color": "#000000"}},
       "encoding": {"x": {"field": "t", "type": "quantitative", "scale": {"domain": [0.5, 30.5], "nice": false, "zero": false}, "axis": {"values": [10, 20, 30], "title": "TimeSpent", "orient": "bottom"}},
        "y": {"field": "f", "type": "quantitative", "scale": {"domain": [0.5, 40.5], "nice": false, "zero": false}, "axis": {"values": [10, 20, 30, 40], "title": "W0", "orient": "left"}}}},
      {"data": {"name": "one"}, "mark": {"type": "text", "text": "f", "font": "DejaVu Sans", "fontSize": 36, "fontWeight": "bold", "color": "#231f20", "align": "center", "baseline": "middle"}, "encoding": {"x": {"datum": -7.11}, "y": {"datum": 37.74}}}
    ]}
   ],
   "resolve": {"scale": {"x": "independent", "y": "independent"}}}
 ], "spacing": 137, "bounds": "flush"},
 {"width": 1197, "height": 56, "data": {"name": "one"}, "mark": {"type": "rule", "color": "#231f20", "strokeWidth": 5}, "encoding": {"x": {"datum": 0.0022, "scale": {"domain": [0, 1], "nice": false}, "axis": null}, "x2": {"datum": 0.9978}, "y": {"datum": 0.821, "scale": {"domain": [0, 1], "nice": false}, "axis": null}}},
 {"hconcat": [
  {"width": 460, "height": 255, "data": {"name": "one"},
   "layer": [
    {"mark": {"type": "rule", "color": "#231f20", "strokeWidth": 3}, "encoding": {"x": {"datum": 0, "scale": {"domain": [-2.736, 11.73], "nice": false, "zero": false}, "axis": null}, "x2": {"datum": 10}, "y": {"datum": 0, "scale": {"domain": [-4.912, 17.456], "nice": false, "zero": false}, "axis": null}}},
    {"mark": {"type": "rule", "color": "#231f20", "strokeWidth": 3}, "encoding": {"x": {"datum": 0, "axis": null}, "y": {"datum": 0, "axis": null}, "y2": {"datum": 10}}},
    {"mark": {"type": "point", "shape": "M -0.8 1 L 0 0 L 0.8 1", "filled": false, "size": 121, "stroke": "#231f20", "strokeWidth": 2.5, "opacity": 1}, "encoding": {"x": {"datum": 0, "axis": null}, "y": {"datum": 10, "axis": null}}},
    {"mark": {"type": "point", "shape": "M -1 -0.8 L 0 0 L -1 0.8", "filled": false, "size": 121, "stroke": "#231f20", "strokeWidth": 2.5, "opacity": 1}, "encoding": {"x": {"datum": 10, "axis": null}, "y": {"datum": 0, "axis": null}}},
    {"mark": {"type": "rule", "color": "#00AEEF", "strokeWidth": 3.5}, "encoding": {"x": {"datum": 0, "axis": null}, "x2": {"datum": 9.94}, "y": {"datum": 7.72, "axis": null}}},
    {"mark": {"type": "rule", "color": "#ED1C24", "strokeWidth": 3, "strokeDash": [1.5, 1.5]}, "encoding": {"x": {"datum": 0, "axis": null}, "x2": {"datum": 10.06}, "y": {"datum": 0, "axis": null}}},
    {"mark": {"type": "text", "text": "Offer", "fontSize": 29, "color": "#00AEEF", "align": "right", "baseline": "alphabetic"}, "encoding": {"x": {"datum": 9.84, "axis": null}, "y": {"datum": 8.51, "axis": null}}},
    {"mark": {"type": "text", "text": "slope = 0/s", "fontSize": 29, "color": "#ED1C24", "align": "center", "baseline": "middle"}, "encoding": {"x": {"datum": 5.03, "axis": null}, "y": {"datum": 1.49, "axis": null}}},
    {"mark": {"type": "text", "text": "Quit", "fontSize": 30, "color": "#231f20", "align": "center", "baseline": "middle", "angle": 270}, "encoding": {"x": {"datum": -1.95, "axis": null}, "y": {"datum": 5.26, "axis": null}}},
    {"mark": {"type": "text", "text": "threshold", "fontSize": 30, "color": "#231f20", "align": "center", "baseline": "middle", "angle": 270}, "encoding": {"x": {"datum": -0.786, "axis": null}, "y": {"datum": 5.26, "axis": null}}},
    {"mark": {"type": "text", "text": "Quit Threshold flat at 0", "font": "DejaVu Sans", "fontSize": 25, "fontWeight": "bold", "fontStyle": "italic", "color": "#231f20", "align": "left", "baseline": "alphabetic"}, "encoding": {"x": {"datum": 0.031, "axis": null}, "y": {"datum": 11.32, "axis": null}}},
    {"mark": {"type": "text", "text": "g", "font": "DejaVu Sans", "fontSize": 36, "fontWeight": "bold", "color": "#231f20", "align": "center", "baseline": "middle"}, "encoding": {"x": {"datum": -1.604, "axis": null}, "y": {"datum": 16.49, "axis": null}}}
   ]},
  {"width": 204, "height": 203,
   "layer": [
    {"data": {"name": "h"}, "mark": {"type": "point", "shape": "circle", "filled": false, "size": 28, "strokeWidth": 1},
     "encoding": {"x": {"field": "t", "type": "quantitative", "scale": {"domain": [0, 30], "nice": false}, "axis": {"values": [0, 10, 20, 30], "title": "Time remaining (s)"}},
      "y": {"field": "p", "type": "quantitative", "scale": {"domain": [0, 1], "nice": false}, "axis": {"values": [0, 1], "format": "d", "title": "p(Earn)"}},
      "color": {"field": "s", "type": "nominal", "scale": {"domain": ["k","lg","g","b","lb","pu","r"], "range": ["#3b3b3b","#8fd48a","#3da35d","#4f6fc4","#8b93db","#9a5db3","#df3b57"]}, "legend": null}}},
    {"data": {"name": "one"}, "mark": {"type": "text", "text": "h", "font": "DejaVu Sans", "fontSize": 36, "fontWeight": "bold", "color": "#231f20", "align": "center", "baseline": "middle"}, "encoding": {"x": {"datum": -6.69}, "y": {"datum": 0.926}}}
   ]},
  {"width": 205, "height": 203, "view": {"fill": "#3e3b9e", "stroke": "#3a3a3a", "strokeWidth": 1},
   "layer": [
    {"data": {"name": "H"}, "mark": {"type": "rect", "strokeWidth": 0.6},
     "encoding": {"x": {"field": "t", "type": "ordinal", "scale": {"domain": [1,2,3,4,5,6,7,8,9,10,11,12,13,14,15,16,17,18,19,20,21,22,23,24,25,26,27,28,29,30], "paddingInner": 0, "paddingOuter": 0}, "axis": null},
      "y": {"field": "w", "type": "ordinal", "scale": {"domain": [40,39,38,37,36,35,34,33,32,31,30,29,28,27,26,25,24,23,22,21,20,19,18,17,16,15,14,13,12,11,10,9,8,7,6,5,4,3,2,1], "paddingInner": 0, "paddingOuter": 0}, "axis": null},
      "color": {"field": "v", "type": "quantitative", "scale": {"domain": [0,1.25,2.5,3.75,5,6.25,7.5,8.75,10], "range": ["#3e3b9e","#3358d5","#1f7fd8","#12a4cb","#3db8a1","#8fbf73","#d4ba55","#fcc936","#f8f80f"], "clamp": true, "interpolate": "rgb"},
       "legend": {"title": "Proportion", "values": [0, 10], "labelExpr": "datum.value == 0 ? '0' : '0.1'", "encode": {"title": {"update": {"angle": {"value": -90}}}, "labels": {"update": {"baseline": {"value": "middle"}}}}}},
      "stroke": {"field": "v", "type": "quantitative", "scale": {"domain": [0,1.25,2.5,3.75,5,6.25,7.5,8.75,10], "range": ["#3e3b9e","#3358d5","#1f7fd8","#12a4cb","#3db8a1","#8fbf73","#d4ba55","#fcc936","#f8f80f"], "clamp": true, "interpolate": "rgb"}, "legend": null}}},
    {"layer": [
      {"data": {"name": "cv"}, "mark": {"type": "line", "color": "#000000", "strokeWidth": 1.8, "point": {"filled": true, "size": 8, "color": "#000000"}},
       "encoding": {"x": {"field": "t", "type": "quantitative", "scale": {"domain": [0.5, 30.5], "nice": false, "zero": false}, "axis": {"values": [10, 20, 30], "title": "TimeSpent", "orient": "bottom"}},
        "y": {"field": "i", "type": "quantitative", "scale": {"domain": [0.5, 40.5], "nice": false, "zero": false}, "axis": {"values": [10, 20, 30, 40], "title": "W0", "orient": "left"}}}},
      {"data": {"name": "one"}, "mark": {"type": "text", "text": "i", "font": "DejaVu Sans", "fontSize": 36, "fontWeight": "bold", "color": "#231f20", "align": "center", "baseline": "middle"}, "encoding": {"x": {"datum": -7.26}, "y": {"datum": 37.15}}}
    ]}
   ],
   "resolve": {"scale": {"x": "independent", "y": "independent"}}}
 ], "spacing": 137, "bounds": "flush"},
 {"width": 1197, "height": 50, "data": {"name": "one"}, "mark": {"type": "rule", "color": "#231f20", "strokeWidth": 5}, "encoding": {"x": {"datum": 0.0022, "scale": {"domain": [0, 1], "nice": false}, "axis": null}, "x2": {"datum": 0.9978}, "y": {"datum": 0.48, "scale": {"domain": [0, 1], "nice": false}, "axis": null}}},
 {"hconcat": [
  {"width": 460, "height": 256, "data": {"name": "one"},
   "layer": [
    {"mark": {"type": "rule", "color": "#231f20", "strokeWidth": 3}, "encoding": {"x": {"datum": 0, "scale": {"domain": [-2.736, 11.73], "nice": false, "zero": false}, "axis": null}, "x2": {"datum": 10}, "y": {"datum": 0, "scale": {"domain": [-0.893, 21.964], "nice": false, "zero": false}, "axis": null}}},
    {"mark": {"type": "rule", "color": "#231f20", "strokeWidth": 3}, "encoding": {"x": {"datum": 0, "axis": null}, "y": {"datum": 0, "axis": null}, "y2": {"datum": 10}}},
    {"mark": {"type": "point", "shape": "M -0.8 1 L 0 0 L 0.8 1", "filled": false, "size": 121, "stroke": "#231f20", "strokeWidth": 2.5, "opacity": 1}, "encoding": {"x": {"datum": 0, "axis": null}, "y": {"datum": 10, "axis": null}}},
    {"mark": {"type": "point", "shape": "M -1 -0.8 L 0 0 L -1 0.8", "filled": false, "size": 121, "stroke": "#231f20", "strokeWidth": 2.5, "opacity": 1}, "encoding": {"x": {"datum": 10, "axis": null}, "y": {"datum": 0, "axis": null}}},
    {"mark": {"type": "rule", "color": "#00AEEF", "strokeWidth": 3.5}, "encoding": {"x": {"datum": 0, "axis": null}, "x2": {"datum": 9.97}, "y": {"datum": 7.857, "axis": null}}},
    {"mark": {"type": "rule", "color": "#ED1C24", "strokeWidth": 3, "strokeDash": [1.5, 1.5]}, "encoding": {"x": {"datum": 0, "axis": null}, "x2": {"datum": 3.4}, "y": {"datum": 7.857, "axis": null}, "y2": {"datum": 14.1}}},
    {"mark": {"type": "point", "shape": "M 1 0 L -1 -0.75 L -0.4 0 L -1 0.75 Z", "filled": true, "size": 600, "color": "#ED1C24", "opacity": 1, "angle": -32}, "encoding": {"x": {"datum": 3.87, "axis": null}, "y": {"datum": 14.82, "axis": null}}},
    {"mark": {"type": "text", "text": "Offer", "fontSize": 29, "color": "#00AEEF", "align": "right", "baseline": "alphabetic"}, "encoding": {"x": {"datum": 9.94, "axis": null}, "y": {"datum": 8.125, "axis": null}}},
    {"mark": {"type": "text", "text": "slope = +1/s", "fontSize": 29, "color": "#ED1C24", "align": "center", "baseline": "middle", "angle": -31}, "encoding": {"x": {"datum": 3.24, "axis": null}, "y": {"datum": 10.625, "axis": null}}},
    {"mark": {"type": "text", "text": "Quit", "fontSize": 30, "color": "#231f20", "align": "center", "baseline": "middle", "angle": 270}, "encoding": {"x": {"datum": -1.98, "axis": null}, "y": {"datum": 4.64, "axis": null}}},
    {"mark": {"type": "text", "text": "threshold", "fontSize": 30, "color": "#231f20", "align": "center", "baseline": "middle", "angle": 270}, "encoding": {"x": {"datum": -0.85, "axis": null}, "y": {"datum": 4.91, "axis": null}}},
    {"mark": {"type": "text", "text": "Anti-sunk cost formulation", "font": "DejaVu Sans", "fontSize": 25, "fontWeight": "bold", "fontStyle": "italic", "color": "#231f20", "align": "left", "baseline": "alphabetic"}, "encoding": {"x": {"datum": 0.189, "axis": null}, "y": {"datum": 16.16, "axis": null}}},
    {"mark": {"type": "text", "text": "j", "font": "DejaVu Sans", "fontSize": 36, "fontWeight": "bold", "color": "#231f20", "align": "center", "baseline": "middle"}, "encoding": {"x": {"datum": -1.84, "axis": null}, "y": {"datum": 20.74, "axis": null}}}
   ]},
  {"width": 204, "height": 203,
   "layer": [
    {"data": {"name": "k"}, "mark": {"type": "point", "shape": "circle", "filled": false, "size": 28, "strokeWidth": 1},
     "encoding": {"x": {"field": "t", "type": "quantitative", "scale": {"domain": [0, 30], "nice": false}, "axis": {"values": [0, 10, 20, 30], "title": "Time remaining (s)"}},
      "y": {"field": "p", "type": "quantitative", "scale": {"domain": [0, 1], "nice": false}, "axis": {"values": [0, 1], "format": "d", "title": "p(Earn)"}},
      "color": {"field": "s", "type": "nominal", "scale": {"domain": ["k","lg","g","b","lb","pu","r"], "range": ["#3b3b3b","#8fd48a","#3da35d","#4f6fc4","#8b93db","#9a5db3","#df3b57"]}, "legend": null}}},
    {"data": {"name": "one"}, "mark": {"type": "text", "text": "k", "font": "DejaVu Sans", "fontSize": 36, "fontWeight": "bold", "color": "#231f20", "align": "center", "baseline": "middle"}, "encoding": {"x": {"datum": -6.55}, "y": {"datum": 0.941}}}
   ]},
  {"width": 205, "height": 203, "view": {"fill": "#3e3b9e", "stroke": "#3a3a3a", "strokeWidth": 1},
   "layer": [
    {"data": {"name": "L"}, "mark": {"type": "rect", "strokeWidth": 0.6},
     "encoding": {"x": {"field": "t", "type": "ordinal", "scale": {"domain": [1,2,3,4,5,6,7,8,9,10,11,12,13,14,15,16,17,18,19,20,21,22,23,24,25,26,27,28,29,30], "paddingInner": 0, "paddingOuter": 0}, "axis": null},
      "y": {"field": "w", "type": "ordinal", "scale": {"domain": [40,39,38,37,36,35,34,33,32,31,30,29,28,27,26,25,24,23,22,21,20,19,18,17,16,15,14,13,12,11,10,9,8,7,6,5,4,3,2,1], "paddingInner": 0, "paddingOuter": 0}, "axis": null},
      "color": {"field": "v", "type": "quantitative", "scale": {"domain": [0,1.25,2.5,3.75,5,6.25,7.5,8.75,10], "range": ["#3e3b9e","#3358d5","#1f7fd8","#12a4cb","#3db8a1","#8fbf73","#d4ba55","#fcc936","#f8f80f"], "clamp": true, "interpolate": "rgb"},
       "legend": {"title": "Proportion", "values": [0, 10], "labelExpr": "datum.value == 0 ? '0' : '0.1'", "encode": {"title": {"update": {"angle": {"value": -90}}}, "labels": {"update": {"baseline": {"value": "middle"}}}}}},
      "stroke": {"field": "v", "type": "quantitative", "scale": {"domain": [0,1.25,2.5,3.75,5,6.25,7.5,8.75,10], "range": ["#3e3b9e","#3358d5","#1f7fd8","#12a4cb","#3db8a1","#8fbf73","#d4ba55","#fcc936","#f8f80f"], "clamp": true, "interpolate": "rgb"}, "legend": null}}},
    {"layer": [
      {"data": {"name": "cv"}, "mark": {"type": "line", "color": "#000000", "strokeWidth": 1.8, "point": {"filled": true, "size": 8, "color": "#000000"}},
       "encoding": {"x": {"field": "t", "type": "quantitative", "scale": {"domain": [0.5, 30.5], "nice": false, "zero": false}, "axis": {"values": [10, 20, 30], "title": "TimeSpent", "orient": "bottom"}},
        "y": {"field": "l", "type": "quantitative", "scale": {"domain": [0.5, 40.5], "nice": false, "zero": false}, "axis": {"values": [10, 20, 30, 40], "title": "W0", "orient": "left"}}}},
      {"data": {"name": "le"}, "mark": {"type": "rule", "color": "#000000", "strokeWidth": 1.2}, "encoding": {"x": {"field": "t", "type": "quantitative"}, "y": {"field": "lo", "type": "quantitative"}, "y2": {"field": "hi"}}},
      {"data": {"name": "one"}, "mark": {"type": "text", "text": "l", "font": "DejaVu Sans", "fontSize": 36, "fontWeight": "bold", "color": "#231f20", "align": "center", "baseline": "middle"}, "encoding": {"x": {"datum": -7.26}, "y": {"datum": 38.14}}}
    ]}
   ],
   "resolve": {"scale": {"x": "independent", "y": "independent"}}}
 ], "spacing": 137, "bounds": "flush"}
]
}
